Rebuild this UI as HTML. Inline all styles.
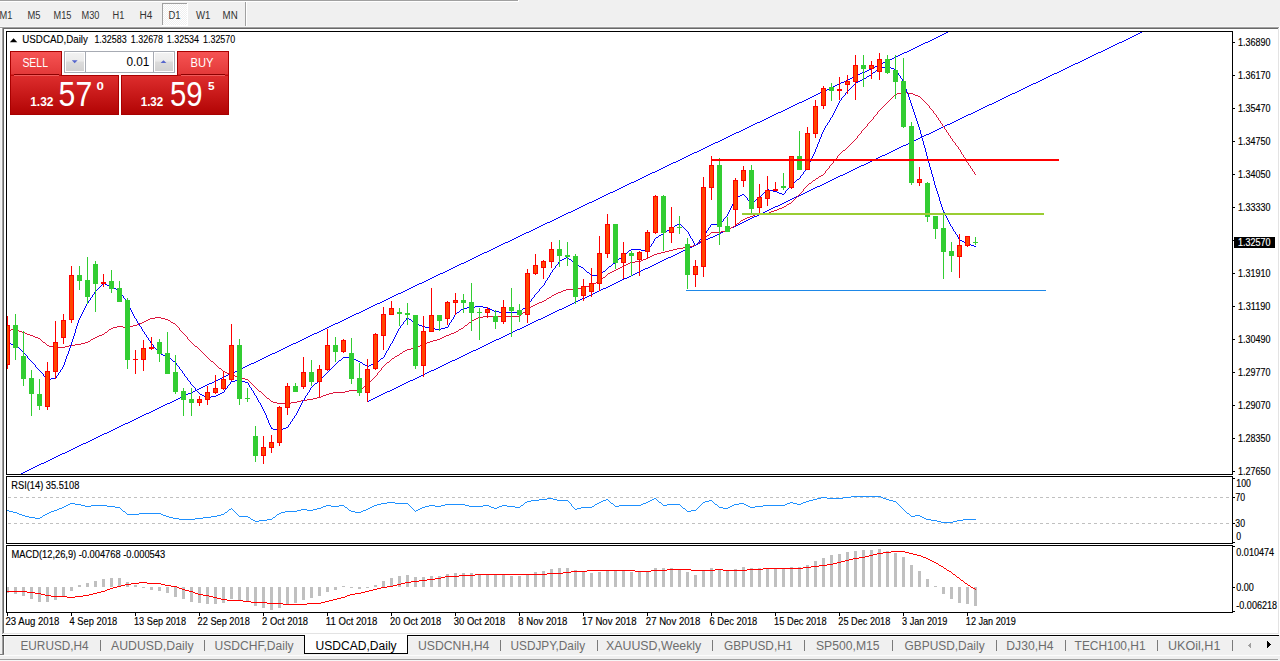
<!DOCTYPE html><html><head><meta charset="utf-8"><title>USDCAD,Daily</title><style>html,body{margin:0;padding:0;background:#f0f0f0;width:1280px;height:661px;overflow:hidden;}text{font-family:"Liberation Sans",sans-serif;}</style></head><body><svg width="1280" height="661" viewBox="0 0 1280 661" shape-rendering="crispEdges" font-family="Liberation Sans, sans-serif" style="display:block"><defs><pattern id="chk" width="2" height="2" patternUnits="userSpaceOnUse"><rect width="2" height="2" fill="#f0f0f0"/><rect width="1" height="1" fill="#ffffff"/><rect x="1" y="1" width="1" height="1" fill="#ffffff"/></pattern><linearGradient id="gsellT" x1="0" y1="0" x2="0" y2="1"><stop offset="0" stop-color="#f65353"/><stop offset="1" stop-color="#e23838"/></linearGradient><linearGradient id="gsellB" x1="0" y1="0" x2="0" y2="1"><stop offset="0" stop-color="#dd2d2d"/><stop offset="1" stop-color="#b20404"/></linearGradient><linearGradient id="gbtn" x1="0" y1="0" x2="0" y2="1"><stop offset="0" stop-color="#f2f2f2"/><stop offset="0.45" stop-color="#ebebeb"/><stop offset="0.5" stop-color="#dcdcdc"/><stop offset="1" stop-color="#d2d2d2"/></linearGradient><clipPath id="cm"><rect x="7" y="32" width="1225" height="442"/></clipPath><clipPath id="cr"><rect x="7" y="477" width="1225" height="66"/></clipPath><clipPath id="cd"><rect x="7" y="546" width="1225" height="66"/></clipPath></defs>
<rect x="0" y="0" width="1280" height="661" fill="#f0f0f0"/>
<rect x="0" y="0" width="518" height="1" fill="#a0a0a0"/>
<rect x="0" y="1" width="519" height="1" fill="#ffffff"/>
<rect x="518" y="0" width="1" height="2" fill="#ffffff"/>
<rect x="162" y="3" width="25" height="22" fill="url(#chk)"/>
<rect x="162" y="3" width="25" height="1" fill="#a0a0a0"/>
<rect x="162" y="3" width="1" height="22" fill="#a0a0a0"/>
<rect x="187" y="3" width="1" height="23" fill="#ffffff"/>
<rect x="162" y="25" width="26" height="1" fill="#ffffff"/>
<text x="-0.5" y="18.9" font-size="10.0" fill="#333" textLength="12.90" lengthAdjust="spacingAndGlyphs">M1</text>
<text x="27.5" y="18.9" font-size="10.0" fill="#333" textLength="13.00" lengthAdjust="spacingAndGlyphs">M5</text>
<text x="53.5" y="18.9" font-size="10.0" fill="#333" textLength="17.90" lengthAdjust="spacingAndGlyphs">M15</text>
<text x="81.5" y="18.9" font-size="10.0" fill="#333" textLength="17.90" lengthAdjust="spacingAndGlyphs">M30</text>
<text x="112.5" y="18.9" font-size="10.0" fill="#333" textLength="11.80" lengthAdjust="spacingAndGlyphs">H1</text>
<text x="139.5" y="18.9" font-size="10.0" fill="#333" textLength="12.90" lengthAdjust="spacingAndGlyphs">H4</text>
<text x="168.5" y="18.9" font-size="10.0" fill="#333" textLength="12.10" lengthAdjust="spacingAndGlyphs">D1</text>
<text x="196" y="18.9" font-size="10.0" fill="#333" textLength="14.40" lengthAdjust="spacingAndGlyphs">W1</text>
<text x="222.6" y="18.9" font-size="10.0" fill="#333" textLength="15.10" lengthAdjust="spacingAndGlyphs">MN</text>
<rect x="245" y="2" width="1" height="25" fill="#a0a0a0"/>
<rect x="246" y="2" width="1" height="25" fill="#ffffff"/>
<rect x="0" y="26" width="1280" height="1" fill="#f6f6f6"/>
<rect x="0" y="28" width="2" height="1" fill="#ffffff"/>
<rect x="1" y="29" width="1" height="604" fill="#f6f6f6"/>
<rect x="0" y="27" width="1279" height="1" fill="#a0a0a0"/>
<rect x="2" y="27" width="1" height="607" fill="#a0a0a0"/>
<rect x="3" y="28" width="1275" height="1" fill="#696969"/>
<rect x="3" y="28" width="1" height="605" fill="#696969"/>
<rect x="1278" y="28" width="1" height="606" fill="#e3e3e3"/>
<rect x="3" y="633" width="1276" height="1" fill="#e3e3e3"/>
<rect x="1279" y="27" width="1" height="608" fill="#ffffff"/>
<rect x="2" y="634" width="1278" height="1" fill="#ffffff"/>
<rect x="4" y="29" width="1274" height="604" fill="#ffffff"/>
<g clip-path="url(#cm)">
<path d="M946 32h2v1h-2zM944 33h2v1h-2zM942 34h2v1h-2zM940 35h2v1h-2zM938 36h2v1h-2zM936 37h2v1h-2zM934 38h2v1h-2zM932 39h2v1h-2zM930 40h2v1h-2zM928 41h2v1h-2zM925 42h3v1h-3zM923 43h2v1h-2zM921 44h2v1h-2zM919 45h2v1h-2zM917 46h2v1h-2zM915 47h2v1h-2zM913 48h2v1h-2zM911 49h2v1h-2zM909 50h2v1h-2zM907 51h2v1h-2zM904 52h3v1h-3zM902 53h2v1h-2zM900 54h2v1h-2zM898 55h2v1h-2zM896 56h2v1h-2zM894 57h2v1h-2zM892 58h2v1h-2zM890 59h2v1h-2zM888 60h2v1h-2zM886 61h2v1h-2zM883 62h3v1h-3zM881 63h2v1h-2zM879 64h2v1h-2zM877 65h2v1h-2zM875 66h2v1h-2zM873 67h2v1h-2zM871 68h2v1h-2zM869 69h2v1h-2zM867 70h2v1h-2zM865 71h2v1h-2zM862 72h3v1h-3zM860 73h2v1h-2zM858 74h2v1h-2zM856 75h2v1h-2zM854 76h2v1h-2zM852 77h2v1h-2zM850 78h2v1h-2zM848 79h2v1h-2zM846 80h2v1h-2zM844 81h2v1h-2zM841 82h3v1h-3zM839 83h2v1h-2zM837 84h2v1h-2zM835 85h2v1h-2zM833 86h2v1h-2zM831 87h2v1h-2zM829 88h2v1h-2zM827 89h2v1h-2zM825 90h2v1h-2zM823 91h2v1h-2zM820 92h3v1h-3zM818 93h2v1h-2zM816 94h2v1h-2zM814 95h2v1h-2zM812 96h2v1h-2zM810 97h2v1h-2zM808 98h2v1h-2zM806 99h2v1h-2zM804 100h2v1h-2zM802 101h2v1h-2zM799 102h3v1h-3zM797 103h2v1h-2zM795 104h2v1h-2zM793 105h2v1h-2zM791 106h2v1h-2zM789 107h2v1h-2zM787 108h2v1h-2zM785 109h2v1h-2zM783 110h2v1h-2zM781 111h2v1h-2zM778 112h3v1h-3zM776 113h2v1h-2zM774 114h2v1h-2zM772 115h2v1h-2zM770 116h2v1h-2zM768 117h2v1h-2zM766 118h2v1h-2zM764 119h2v1h-2zM762 120h2v1h-2zM760 121h2v1h-2zM757 122h3v1h-3zM755 123h2v1h-2zM753 124h2v1h-2zM751 125h2v1h-2zM749 126h2v1h-2zM747 127h2v1h-2zM745 128h2v1h-2zM743 129h2v1h-2zM741 130h2v1h-2zM739 131h2v1h-2zM736 132h3v1h-3zM734 133h2v1h-2zM732 134h2v1h-2zM730 135h2v1h-2zM728 136h2v1h-2zM726 137h2v1h-2zM724 138h2v1h-2zM722 139h2v1h-2zM720 140h2v1h-2zM718 141h2v1h-2zM715 142h3v1h-3zM713 143h2v1h-2zM711 144h2v1h-2zM709 145h2v1h-2zM707 146h2v1h-2zM705 147h2v1h-2zM703 148h2v1h-2zM701 149h2v1h-2zM699 150h2v1h-2zM697 151h2v1h-2zM694 152h3v1h-3zM692 153h2v1h-2zM690 154h2v1h-2zM688 155h2v1h-2zM686 156h2v1h-2zM684 157h2v1h-2zM682 158h2v1h-2zM680 159h2v1h-2zM678 160h2v1h-2zM676 161h2v1h-2zM673 162h3v1h-3zM671 163h2v1h-2zM669 164h2v1h-2zM667 165h2v1h-2zM665 166h2v1h-2zM663 167h2v1h-2zM661 168h2v1h-2zM659 169h2v1h-2zM657 170h2v1h-2zM655 171h2v1h-2zM652 172h3v1h-3zM650 173h2v1h-2zM648 174h2v1h-2zM646 175h2v1h-2zM644 176h2v1h-2zM642 177h2v1h-2zM640 178h2v1h-2zM638 179h2v1h-2zM636 180h2v1h-2zM634 181h2v1h-2zM631 182h3v1h-3zM629 183h2v1h-2zM627 184h2v1h-2zM625 185h2v1h-2zM623 186h2v1h-2zM621 187h2v1h-2zM619 188h2v1h-2zM617 189h2v1h-2zM615 190h2v1h-2zM613 191h2v1h-2zM610 192h3v1h-3zM608 193h2v1h-2zM606 194h2v1h-2zM604 195h2v1h-2zM602 196h2v1h-2zM600 197h2v1h-2zM598 198h2v1h-2zM596 199h2v1h-2zM594 200h2v1h-2zM592 201h2v1h-2zM589 202h3v1h-3zM587 203h2v1h-2zM585 204h2v1h-2zM583 205h2v1h-2zM581 206h2v1h-2zM579 207h2v1h-2zM577 208h2v1h-2zM575 209h2v1h-2zM573 210h2v1h-2zM571 211h2v1h-2zM568 212h3v1h-3zM566 213h2v1h-2zM564 214h2v1h-2zM562 215h2v1h-2zM560 216h2v1h-2zM558 217h2v1h-2zM556 218h2v1h-2zM554 219h2v1h-2zM552 220h2v1h-2zM550 221h2v1h-2zM547 222h3v1h-3zM545 223h2v1h-2zM543 224h2v1h-2zM541 225h2v1h-2zM539 226h2v1h-2zM537 227h2v1h-2zM535 228h2v1h-2zM533 229h2v1h-2zM531 230h2v1h-2zM529 231h2v1h-2zM526 232h3v1h-3zM524 233h2v1h-2zM522 234h2v1h-2zM520 235h2v1h-2zM518 236h2v1h-2zM516 237h2v1h-2zM514 238h2v1h-2zM512 239h2v1h-2zM510 240h2v1h-2zM508 241h2v1h-2zM505 242h3v1h-3zM503 243h2v1h-2zM501 244h2v1h-2zM499 245h2v1h-2zM497 246h2v1h-2zM495 247h2v1h-2zM493 248h2v1h-2zM491 249h2v1h-2zM489 250h2v1h-2zM487 251h2v1h-2zM484 252h3v1h-3zM482 253h2v1h-2zM480 254h2v1h-2zM478 255h2v1h-2zM476 256h2v1h-2zM474 257h2v1h-2zM472 258h2v1h-2zM470 259h2v1h-2zM468 260h2v1h-2zM466 261h2v1h-2zM464 262h2v1h-2zM461 263h3v1h-3zM459 264h2v1h-2zM457 265h2v1h-2zM455 266h2v1h-2zM453 267h2v1h-2zM451 268h2v1h-2zM449 269h2v1h-2zM447 270h2v1h-2zM445 271h2v1h-2zM443 272h2v1h-2zM440 273h3v1h-3zM438 274h2v1h-2zM436 275h2v1h-2zM434 276h2v1h-2zM432 277h2v1h-2zM430 278h2v1h-2zM428 279h2v1h-2zM426 280h2v1h-2zM424 281h2v1h-2zM422 282h2v1h-2zM419 283h3v1h-3zM417 284h2v1h-2zM415 285h2v1h-2zM413 286h2v1h-2zM411 287h2v1h-2zM409 288h2v1h-2zM407 289h2v1h-2zM405 290h2v1h-2zM403 291h2v1h-2zM401 292h2v1h-2zM398 293h3v1h-3zM396 294h2v1h-2zM394 295h2v1h-2zM392 296h2v1h-2zM390 297h2v1h-2zM388 298h2v1h-2zM386 299h2v1h-2zM384 300h2v1h-2zM382 301h2v1h-2zM380 302h2v1h-2zM377 303h3v1h-3zM375 304h2v1h-2zM373 305h2v1h-2zM371 306h2v1h-2zM369 307h2v1h-2zM367 308h2v1h-2zM365 309h2v1h-2zM363 310h2v1h-2zM361 311h2v1h-2zM359 312h2v1h-2zM356 313h3v1h-3zM354 314h2v1h-2zM352 315h2v1h-2zM350 316h2v1h-2zM348 317h2v1h-2zM346 318h2v1h-2zM344 319h2v1h-2zM342 320h2v1h-2zM340 321h2v1h-2zM338 322h2v1h-2zM335 323h3v1h-3zM333 324h2v1h-2zM331 325h2v1h-2zM329 326h2v1h-2zM327 327h2v1h-2zM325 328h2v1h-2zM323 329h2v1h-2zM321 330h2v1h-2zM319 331h2v1h-2zM317 332h2v1h-2zM314 333h3v1h-3zM312 334h2v1h-2zM310 335h2v1h-2zM308 336h2v1h-2zM306 337h2v1h-2zM304 338h2v1h-2zM302 339h2v1h-2zM300 340h2v1h-2zM298 341h2v1h-2zM296 342h2v1h-2zM293 343h3v1h-3zM291 344h2v1h-2zM289 345h2v1h-2zM287 346h2v1h-2zM285 347h2v1h-2zM283 348h2v1h-2zM281 349h2v1h-2zM279 350h2v1h-2zM277 351h2v1h-2zM275 352h2v1h-2zM272 353h3v1h-3zM270 354h2v1h-2zM268 355h2v1h-2zM266 356h2v1h-2zM264 357h2v1h-2zM262 358h2v1h-2zM260 359h2v1h-2zM258 360h2v1h-2zM256 361h2v1h-2zM254 362h2v1h-2zM251 363h3v1h-3zM249 364h2v1h-2zM247 365h2v1h-2zM245 366h2v1h-2zM243 367h2v1h-2zM241 368h2v1h-2zM239 369h2v1h-2zM237 370h2v1h-2zM235 371h2v1h-2zM233 372h2v1h-2zM230 373h3v1h-3zM228 374h2v1h-2zM226 375h2v1h-2zM224 376h2v1h-2zM222 377h2v1h-2zM220 378h2v1h-2zM218 379h2v1h-2zM216 380h2v1h-2zM214 381h2v1h-2zM212 382h2v1h-2zM209 383h3v1h-3zM207 384h2v1h-2zM205 385h2v1h-2zM203 386h2v1h-2zM201 387h2v1h-2zM199 388h2v1h-2zM197 389h2v1h-2zM195 390h2v1h-2zM193 391h2v1h-2zM191 392h2v1h-2zM188 393h3v1h-3zM186 394h2v1h-2zM184 395h2v1h-2zM182 396h2v1h-2zM180 397h2v1h-2zM178 398h2v1h-2zM176 399h2v1h-2zM174 400h2v1h-2zM172 401h2v1h-2zM170 402h2v1h-2zM167 403h3v1h-3zM165 404h2v1h-2zM163 405h2v1h-2zM161 406h2v1h-2zM159 407h2v1h-2zM157 408h2v1h-2zM155 409h2v1h-2zM153 410h2v1h-2zM151 411h2v1h-2zM149 412h2v1h-2zM146 413h3v1h-3zM144 414h2v1h-2zM142 415h2v1h-2zM140 416h2v1h-2zM138 417h2v1h-2zM136 418h2v1h-2zM134 419h2v1h-2zM132 420h2v1h-2zM130 421h2v1h-2zM128 422h2v1h-2zM125 423h3v1h-3zM123 424h2v1h-2zM121 425h2v1h-2zM119 426h2v1h-2zM117 427h2v1h-2zM115 428h2v1h-2zM113 429h2v1h-2zM111 430h2v1h-2zM109 431h2v1h-2zM107 432h2v1h-2zM104 433h3v1h-3zM102 434h2v1h-2zM100 435h2v1h-2zM98 436h2v1h-2zM96 437h2v1h-2zM94 438h2v1h-2zM92 439h2v1h-2zM90 440h2v1h-2zM88 441h2v1h-2zM86 442h2v1h-2zM83 443h3v1h-3zM81 444h2v1h-2zM79 445h2v1h-2zM77 446h2v1h-2zM75 447h2v1h-2zM73 448h2v1h-2zM71 449h2v1h-2zM69 450h2v1h-2zM67 451h2v1h-2zM65 452h2v1h-2zM62 453h3v1h-3zM60 454h2v1h-2zM58 455h2v1h-2zM56 456h2v1h-2zM54 457h2v1h-2zM52 458h2v1h-2zM50 459h2v1h-2zM48 460h2v1h-2zM46 461h2v1h-2zM44 462h2v1h-2zM41 463h3v1h-3zM39 464h2v1h-2zM37 465h2v1h-2zM35 466h2v1h-2zM33 467h2v1h-2zM31 468h2v1h-2zM29 469h2v1h-2zM27 470h2v1h-2zM25 471h2v1h-2zM23 472h2v1h-2zM21 473h2v1h-2z" fill="#0000ff"/>
<path d="M1140 32h2v1h-2zM1138 33h2v1h-2zM1136 34h2v1h-2zM1134 35h2v1h-2zM1132 36h2v1h-2zM1130 37h2v1h-2zM1128 38h2v1h-2zM1126 39h2v1h-2zM1124 40h2v1h-2zM1122 41h2v1h-2zM1119 42h3v1h-3zM1117 43h2v1h-2zM1115 44h2v1h-2zM1113 45h2v1h-2zM1111 46h2v1h-2zM1109 47h2v1h-2zM1107 48h2v1h-2zM1105 49h2v1h-2zM1103 50h2v1h-2zM1101 51h2v1h-2zM1098 52h3v1h-3zM1096 53h2v1h-2zM1094 54h2v1h-2zM1092 55h2v1h-2zM1090 56h2v1h-2zM1088 57h2v1h-2zM1086 58h2v1h-2zM1084 59h2v1h-2zM1082 60h2v1h-2zM1080 61h2v1h-2zM1078 62h2v1h-2zM1075 63h3v1h-3zM1073 64h2v1h-2zM1071 65h2v1h-2zM1069 66h2v1h-2zM1067 67h2v1h-2zM1065 68h2v1h-2zM1063 69h2v1h-2zM1061 70h2v1h-2zM1059 71h2v1h-2zM1057 72h2v1h-2zM1054 73h3v1h-3zM1052 74h2v1h-2zM1050 75h2v1h-2zM1048 76h2v1h-2zM1046 77h2v1h-2zM1044 78h2v1h-2zM1042 79h2v1h-2zM1040 80h2v1h-2zM1038 81h2v1h-2zM1036 82h2v1h-2zM1033 83h3v1h-3zM1031 84h2v1h-2zM1029 85h2v1h-2zM1027 86h2v1h-2zM1025 87h2v1h-2zM1023 88h2v1h-2zM1021 89h2v1h-2zM1019 90h2v1h-2zM1017 91h2v1h-2zM1015 92h2v1h-2zM1012 93h3v1h-3zM1010 94h2v1h-2zM1008 95h2v1h-2zM1006 96h2v1h-2zM1004 97h2v1h-2zM1002 98h2v1h-2zM1000 99h2v1h-2zM998 100h2v1h-2zM996 101h2v1h-2zM994 102h2v1h-2zM992 103h2v1h-2zM989 104h3v1h-3zM987 105h2v1h-2zM985 106h2v1h-2zM983 107h2v1h-2zM981 108h2v1h-2zM979 109h2v1h-2zM977 110h2v1h-2zM975 111h2v1h-2zM973 112h2v1h-2zM971 113h2v1h-2zM968 114h3v1h-3zM966 115h2v1h-2zM964 116h2v1h-2zM962 117h2v1h-2zM960 118h2v1h-2zM958 119h2v1h-2zM956 120h2v1h-2zM954 121h2v1h-2zM952 122h2v1h-2zM950 123h2v1h-2zM947 124h3v1h-3zM945 125h2v1h-2zM943 126h2v1h-2zM941 127h2v1h-2zM939 128h2v1h-2zM937 129h2v1h-2zM935 130h2v1h-2zM933 131h2v1h-2zM931 132h2v1h-2zM929 133h2v1h-2zM926 134h3v1h-3zM924 135h2v1h-2zM922 136h2v1h-2zM920 137h2v1h-2zM918 138h2v1h-2zM916 139h2v1h-2zM914 140h2v1h-2zM912 141h2v1h-2zM910 142h2v1h-2zM908 143h2v1h-2zM906 144h2v1h-2zM903 145h3v1h-3zM901 146h2v1h-2zM899 147h2v1h-2zM897 148h2v1h-2zM895 149h2v1h-2zM893 150h2v1h-2zM891 151h2v1h-2zM889 152h2v1h-2zM887 153h2v1h-2zM885 154h2v1h-2zM882 155h3v1h-3zM880 156h2v1h-2zM878 157h2v1h-2zM876 158h2v1h-2zM874 159h2v1h-2zM872 160h2v1h-2zM870 161h2v1h-2zM868 162h2v1h-2zM866 163h2v1h-2zM864 164h2v1h-2zM861 165h3v1h-3zM859 166h2v1h-2zM857 167h2v1h-2zM855 168h2v1h-2zM853 169h2v1h-2zM851 170h2v1h-2zM849 171h2v1h-2zM847 172h2v1h-2zM845 173h2v1h-2zM843 174h2v1h-2zM840 175h3v1h-3zM838 176h2v1h-2zM836 177h2v1h-2zM834 178h2v1h-2zM832 179h2v1h-2zM830 180h2v1h-2zM828 181h2v1h-2zM826 182h2v1h-2zM824 183h2v1h-2zM822 184h2v1h-2zM820 185h2v1h-2zM817 186h3v1h-3zM815 187h2v1h-2zM813 188h2v1h-2zM811 189h2v1h-2zM809 190h2v1h-2zM807 191h2v1h-2zM805 192h2v1h-2zM803 193h2v1h-2zM801 194h2v1h-2zM799 195h2v1h-2zM796 196h3v1h-3zM794 197h2v1h-2zM792 198h2v1h-2zM790 199h2v1h-2zM788 200h2v1h-2zM786 201h2v1h-2zM784 202h2v1h-2zM782 203h2v1h-2zM780 204h2v1h-2zM778 205h2v1h-2zM775 206h3v1h-3zM773 207h2v1h-2zM771 208h2v1h-2zM769 209h2v1h-2zM767 210h2v1h-2zM765 211h2v1h-2zM763 212h2v1h-2zM761 213h2v1h-2zM759 214h2v1h-2zM757 215h2v1h-2zM754 216h3v1h-3zM752 217h2v1h-2zM750 218h2v1h-2zM748 219h2v1h-2zM746 220h2v1h-2zM744 221h2v1h-2zM742 222h2v1h-2zM740 223h2v1h-2zM738 224h2v1h-2zM736 225h2v1h-2zM734 226h2v1h-2zM731 227h3v1h-3zM729 228h2v1h-2zM727 229h2v1h-2zM725 230h2v1h-2zM723 231h2v1h-2zM721 232h2v1h-2zM719 233h2v1h-2zM717 234h2v1h-2zM715 235h2v1h-2zM713 236h2v1h-2zM710 237h3v1h-3zM708 238h2v1h-2zM706 239h2v1h-2zM704 240h2v1h-2zM702 241h2v1h-2zM700 242h2v1h-2zM698 243h2v1h-2zM696 244h2v1h-2zM694 245h2v1h-2zM692 246h2v1h-2zM689 247h3v1h-3zM687 248h2v1h-2zM685 249h2v1h-2zM683 250h2v1h-2zM681 251h2v1h-2zM679 252h2v1h-2zM677 253h2v1h-2zM675 254h2v1h-2zM673 255h2v1h-2zM671 256h2v1h-2zM668 257h3v1h-3zM666 258h2v1h-2zM664 259h2v1h-2zM662 260h2v1h-2zM660 261h2v1h-2zM658 262h2v1h-2zM656 263h2v1h-2zM654 264h2v1h-2zM652 265h2v1h-2zM650 266h2v1h-2zM648 267h2v1h-2zM645 268h3v1h-3zM643 269h2v1h-2zM641 270h2v1h-2zM639 271h2v1h-2zM637 272h2v1h-2zM635 273h2v1h-2zM633 274h2v1h-2zM631 275h2v1h-2zM629 276h2v1h-2zM627 277h2v1h-2zM624 278h3v1h-3zM622 279h2v1h-2zM620 280h2v1h-2zM618 281h2v1h-2zM616 282h2v1h-2zM614 283h2v1h-2zM612 284h2v1h-2zM610 285h2v1h-2zM608 286h2v1h-2zM606 287h2v1h-2zM603 288h3v1h-3zM601 289h2v1h-2zM599 290h2v1h-2zM597 291h2v1h-2zM595 292h2v1h-2zM593 293h2v1h-2zM591 294h2v1h-2zM589 295h2v1h-2zM587 296h2v1h-2zM585 297h2v1h-2zM582 298h3v1h-3zM580 299h2v1h-2zM578 300h2v1h-2zM576 301h2v1h-2zM574 302h2v1h-2zM572 303h2v1h-2zM570 304h2v1h-2zM568 305h2v1h-2zM566 306h2v1h-2zM564 307h2v1h-2zM562 308h2v1h-2zM559 309h3v1h-3zM557 310h2v1h-2zM555 311h2v1h-2zM553 312h2v1h-2zM551 313h2v1h-2zM549 314h2v1h-2zM547 315h2v1h-2zM545 316h2v1h-2zM543 317h2v1h-2zM541 318h2v1h-2zM538 319h3v1h-3zM536 320h2v1h-2zM534 321h2v1h-2zM532 322h2v1h-2zM530 323h2v1h-2zM528 324h2v1h-2zM526 325h2v1h-2zM524 326h2v1h-2zM522 327h2v1h-2zM520 328h2v1h-2zM517 329h3v1h-3zM515 330h2v1h-2zM513 331h2v1h-2zM511 332h2v1h-2zM509 333h2v1h-2zM507 334h2v1h-2zM505 335h2v1h-2zM503 336h2v1h-2zM501 337h2v1h-2zM499 338h2v1h-2zM496 339h3v1h-3zM494 340h2v1h-2zM492 341h2v1h-2zM490 342h2v1h-2zM488 343h2v1h-2zM486 344h2v1h-2zM484 345h2v1h-2zM482 346h2v1h-2zM480 347h2v1h-2zM478 348h2v1h-2zM476 349h2v1h-2zM473 350h3v1h-3zM471 351h2v1h-2zM469 352h2v1h-2zM467 353h2v1h-2zM465 354h2v1h-2zM463 355h2v1h-2zM461 356h2v1h-2zM459 357h2v1h-2zM457 358h2v1h-2zM455 359h2v1h-2zM452 360h3v1h-3zM450 361h2v1h-2zM448 362h2v1h-2zM446 363h2v1h-2zM444 364h2v1h-2zM442 365h2v1h-2zM440 366h2v1h-2zM438 367h2v1h-2zM436 368h2v1h-2zM434 369h2v1h-2zM431 370h3v1h-3zM429 371h2v1h-2zM427 372h2v1h-2zM425 373h2v1h-2zM423 374h2v1h-2zM421 375h2v1h-2zM419 376h2v1h-2zM417 377h2v1h-2zM415 378h2v1h-2zM413 379h2v1h-2zM410 380h3v1h-3zM408 381h2v1h-2zM406 382h2v1h-2zM404 383h2v1h-2zM402 384h2v1h-2zM400 385h2v1h-2zM398 386h2v1h-2zM396 387h2v1h-2zM394 388h2v1h-2zM392 389h2v1h-2zM390 390h2v1h-2zM387 391h3v1h-3zM385 392h2v1h-2zM383 393h2v1h-2zM381 394h2v1h-2zM379 395h2v1h-2zM377 396h2v1h-2zM375 397h2v1h-2zM373 398h2v1h-2zM371 399h2v1h-2zM369 400h2v1h-2zM367 401h2v1h-2z" fill="#0000ff"/>
<path d="M901 92h6v1h-6zM897 93h4v1h-4zM907 93h6v1h-6zM895 94h2v1h-2zM913 94h2v1h-2zM894 95h1v1h-1zM915 95h3v1h-3zM893 96h1v1h-1zM918 96h2v1h-2zM892 97h1v1h-1zM920 97h1v1h-1zM891 98h1v1h-1zM921 98h1v1h-1zM890 99h1v1h-1zM922 99h1v1h-1zM889 100h1v1h-1zM923 100h1v1h-1zM888 101h1v1h-1zM924 101h1v1h-1zM887 102h1v1h-1zM925 102h1v1h-1zM886 103h1v1h-1zM926 103h1v1h-1zM885 104h1v1h-1zM927 104h1v1h-1zM884 105h1v1h-1zM928 105h1v1h-1zM883 106h1v1h-1zM929 106h1v1h-1zM882 107h1v1h-1zM929 107h1v1h-1zM881 108h1v1h-1zM930 108h1v1h-1zM880 109h1v1h-1zM931 109h1v1h-1zM879 110h1v1h-1zM932 110h1v1h-1zM878 111h1v1h-1zM933 111h1v1h-1zM877 112h1v1h-1zM933 112h1v1h-1zM877 113h1v1h-1zM934 113h1v1h-1zM876 114h1v1h-1zM935 114h1v1h-1zM875 115h1v1h-1zM936 115h1v1h-1zM874 116h1v1h-1zM936 116h1v1h-1zM873 117h1v1h-1zM937 117h1v1h-1zM873 118h1v1h-1zM938 118h1v1h-1zM872 119h1v1h-1zM938 119h1v1h-1zM871 120h1v1h-1zM939 120h1v1h-1zM870 121h1v1h-1zM940 121h1v1h-1zM869 122h1v1h-1zM940 122h1v1h-1zM868 123h1v1h-1zM941 123h1v1h-1zM867 124h1v1h-1zM942 124h1v1h-1zM867 125h1v1h-1zM942 125h1v1h-1zM866 126h1v1h-1zM943 126h1v1h-1zM865 127h1v1h-1zM944 127h1v1h-1zM864 128h1v1h-1zM944 128h1v1h-1zM863 129h1v1h-1zM945 129h1v1h-1zM862 130h1v1h-1zM946 130h1v1h-1zM861 131h1v1h-1zM946 131h1v1h-1zM861 132h1v1h-1zM947 132h1v1h-1zM860 133h1v1h-1zM948 133h1v1h-1zM859 134h1v1h-1zM948 134h1v1h-1zM858 135h1v1h-1zM949 135h1v1h-1zM857 136h1v1h-1zM950 136h1v1h-1zM857 137h1v1h-1zM950 137h1v1h-1zM856 138h1v1h-1zM951 138h1v1h-1zM855 139h1v1h-1zM952 139h1v1h-1zM854 140h1v1h-1zM952 140h1v1h-1zM853 141h1v1h-1zM953 141h1v1h-1zM852 142h1v1h-1zM954 142h1v1h-1zM851 143h1v1h-1zM955 143h1v1h-1zM850 144h1v1h-1zM955 144h1v1h-1zM849 145h1v1h-1zM956 145h1v1h-1zM848 146h1v1h-1zM957 146h1v1h-1zM847 147h1v1h-1zM958 147h1v1h-1zM846 148h1v1h-1zM958 148h1v1h-1zM845 149h1v1h-1zM959 149h1v1h-1zM843 150h2v1h-2zM960 150h1v1h-1zM842 151h1v1h-1zM960 151h1v1h-1zM841 152h1v1h-1zM961 152h1v1h-1zM840 153h1v1h-1zM961 153h1v1h-1zM839 154h1v1h-1zM962 154h1v1h-1zM838 155h1v1h-1zM963 155h1v1h-1zM837 156h1v1h-1zM963 156h1v1h-1zM837 157h1v1h-1zM964 157h1v1h-1zM836 158h1v1h-1zM965 158h1v1h-1zM835 159h1v1h-1zM965 159h1v1h-1zM834 160h1v1h-1zM966 160h1v1h-1zM833 161h1v1h-1zM966 161h1v1h-1zM833 162h1v1h-1zM967 162h1v1h-1zM832 163h1v1h-1zM968 163h1v1h-1zM831 164h1v1h-1zM968 164h1v1h-1zM830 165h1v1h-1zM969 165h1v1h-1zM829 166h1v1h-1zM970 166h1v1h-1zM829 167h1v1h-1zM970 167h1v1h-1zM828 168h1v1h-1zM971 168h1v1h-1zM827 169h1v1h-1zM972 169h1v1h-1zM826 170h1v1h-1zM972 170h1v1h-1zM825 171h1v1h-1zM973 171h1v1h-1zM825 172h1v1h-1zM974 172h1v1h-1zM824 173h1v1h-1zM974 173h1v1h-1zM823 174h1v1h-1zM975 174h1v1h-1zM821 175h2v1h-2zM819 176h2v1h-2zM818 177h1v1h-1zM816 178h2v1h-2zM815 179h1v1h-1zM813 180h2v1h-2zM812 181h1v1h-1zM811 182h1v1h-1zM809 183h2v1h-2zM808 184h1v1h-1zM807 185h1v1h-1zM806 186h1v1h-1zM805 187h1v1h-1zM804 188h1v1h-1zM803 189h1v1h-1zM803 190h1v1h-1zM802 191h1v1h-1zM801 192h1v1h-1zM800 193h1v1h-1zM799 194h1v1h-1zM798 195h1v1h-1zM797 196h1v1h-1zM796 197h1v1h-1zM795 198h1v1h-1zM794 199h1v1h-1zM793 200h1v1h-1zM792 201h1v1h-1zM791 202h1v1h-1zM789 203h2v1h-2zM787 204h2v1h-2zM786 205h1v1h-1zM784 206h2v1h-2zM782 207h2v1h-2zM779 208h3v1h-3zM777 209h2v1h-2zM774 210h3v1h-3zM771 211h3v1h-3zM769 212h2v1h-2zM758 213h11v1h-11zM755 214h3v1h-3zM753 215h2v1h-2zM750 216h3v1h-3zM747 217h3v1h-3zM745 218h2v1h-2zM743 219h2v1h-2zM741 220h2v1h-2zM740 221h1v1h-1zM739 222h1v1h-1zM737 223h2v1h-2zM736 224h1v1h-1zM735 225h1v1h-1zM733 226h2v1h-2zM731 227h2v1h-2zM730 228h1v1h-1zM728 229h2v1h-2zM725 230h3v1h-3zM721 231h4v1h-4zM711 232h10v1h-10zM710 233h1v1h-1zM709 234h1v1h-1zM707 235h2v1h-2zM706 236h1v1h-1zM705 237h1v1h-1zM704 238h1v1h-1zM703 239h1v1h-1zM701 240h2v1h-2zM700 241h1v1h-1zM699 242h1v1h-1zM697 243h2v1h-2zM696 244h1v1h-1zM693 245h3v1h-3zM689 246h4v1h-4zM683 247h6v1h-6zM677 248h6v1h-6zM673 249h4v1h-4zM669 250h4v1h-4zM665 251h4v1h-4zM661 252h4v1h-4zM657 253h4v1h-4zM654 254h3v1h-3zM652 255h2v1h-2zM650 256h2v1h-2zM648 257h2v1h-2zM646 258h2v1h-2zM643 259h3v1h-3zM641 260h2v1h-2zM635 261h6v1h-6zM630 262h5v1h-5zM628 263h2v1h-2zM626 264h2v1h-2zM624 265h2v1h-2zM622 266h2v1h-2zM620 267h2v1h-2zM618 268h2v1h-2zM616 269h2v1h-2zM614 270h2v1h-2zM612 271h2v1h-2zM610 272h2v1h-2zM608 273h2v1h-2zM607 274h1v1h-1zM606 275h1v1h-1zM605 276h1v1h-1zM603 277h2v1h-2zM602 278h1v1h-1zM601 279h1v1h-1zM600 280h1v1h-1zM598 281h2v1h-2zM596 282h2v1h-2zM594 283h2v1h-2zM592 284h2v1h-2zM589 285h3v1h-3zM585 286h4v1h-4zM581 287h4v1h-4zM577 288h4v1h-4zM566 289h11v1h-11zM563 290h3v1h-3zM561 291h2v1h-2zM558 292h3v1h-3zM556 293h2v1h-2zM554 294h2v1h-2zM552 295h2v1h-2zM551 296h1v1h-1zM549 297h2v1h-2zM547 298h2v1h-2zM546 299h1v1h-1zM544 300h2v1h-2zM542 301h2v1h-2zM539 302h3v1h-3zM537 303h2v1h-2zM535 304h2v1h-2zM533 305h2v1h-2zM531 306h2v1h-2zM530 307h1v1h-1zM528 308h2v1h-2zM527 309h1v1h-1zM526 310h1v1h-1zM525 311h1v1h-1zM523 312h2v1h-2zM522 313h1v1h-1zM521 314h1v1h-1zM520 315h1v1h-1zM483 316h37v1h-37zM155 317h6v1h-6zM478 317h5v1h-5zM150 318h5v1h-5zM161 318h4v1h-4zM476 318h2v1h-2zM148 319h2v1h-2zM165 319h3v1h-3zM474 319h2v1h-2zM146 320h2v1h-2zM168 320h2v1h-2zM472 320h2v1h-2zM144 321h2v1h-2zM170 321h1v1h-1zM471 321h1v1h-1zM142 322h2v1h-2zM171 322h2v1h-2zM469 322h2v1h-2zM139 323h3v1h-3zM173 323h2v1h-2zM468 323h1v1h-1zM137 324h2v1h-2zM175 324h1v1h-1zM467 324h1v1h-1zM133 325h4v1h-4zM176 325h1v1h-1zM465 325h2v1h-2zM117 326h6v1h-6zM129 326h4v1h-4zM177 326h1v1h-1zM464 326h1v1h-1zM113 327h4v1h-4zM123 327h6v1h-6zM178 327h1v1h-1zM463 327h1v1h-1zM111 328h2v1h-2zM179 328h1v1h-1zM461 328h2v1h-2zM11 329h6v1h-6zM109 329h2v1h-2zM179 329h1v1h-1zM459 329h2v1h-2zM7 330h4v1h-4zM17 330h2v1h-2zM108 330h1v1h-1zM180 330h1v1h-1zM458 330h1v1h-1zM19 331h3v1h-3zM107 331h1v1h-1zM181 331h1v1h-1zM456 331h2v1h-2zM22 332h3v1h-3zM105 332h2v1h-2zM182 332h1v1h-1zM454 332h2v1h-2zM25 333h2v1h-2zM104 333h1v1h-1zM183 333h1v1h-1zM451 333h3v1h-3zM27 334h3v1h-3zM102 334h2v1h-2zM184 334h1v1h-1zM449 334h2v1h-2zM30 335h3v1h-3zM99 335h3v1h-3zM185 335h1v1h-1zM446 335h3v1h-3zM33 336h2v1h-2zM97 336h2v1h-2zM186 336h1v1h-1zM444 336h2v1h-2zM35 337h3v1h-3zM95 337h2v1h-2zM187 337h1v1h-1zM442 337h2v1h-2zM38 338h2v1h-2zM93 338h2v1h-2zM187 338h1v1h-1zM440 338h2v1h-2zM40 339h1v1h-1zM91 339h2v1h-2zM188 339h1v1h-1zM437 339h3v1h-3zM41 340h1v1h-1zM90 340h1v1h-1zM189 340h1v1h-1zM433 340h4v1h-4zM42 341h1v1h-1zM88 341h2v1h-2zM190 341h1v1h-1zM430 341h3v1h-3zM43 342h2v1h-2zM85 342h3v1h-3zM191 342h1v1h-1zM427 342h3v1h-3zM45 343h1v1h-1zM81 343h4v1h-4zM192 343h1v1h-1zM425 343h2v1h-2zM46 344h1v1h-1zM75 344h6v1h-6zM193 344h1v1h-1zM422 344h3v1h-3zM47 345h2v1h-2zM69 345h6v1h-6zM194 345h1v1h-1zM420 345h2v1h-2zM49 346h4v1h-4zM65 346h4v1h-4zM195 346h2v1h-2zM418 346h2v1h-2zM53 347h12v1h-12zM197 347h1v1h-1zM416 347h2v1h-2zM198 348h1v1h-1zM411 348h5v1h-5zM199 349h1v1h-1zM407 349h4v1h-4zM200 350h1v1h-1zM405 350h2v1h-2zM201 351h1v1h-1zM403 351h2v1h-2zM202 352h1v1h-1zM402 352h1v1h-1zM203 353h1v1h-1zM400 353h2v1h-2zM204 354h1v1h-1zM399 354h1v1h-1zM205 355h1v1h-1zM397 355h2v1h-2zM206 356h1v1h-1zM395 356h2v1h-2zM207 357h1v1h-1zM394 357h1v1h-1zM208 358h1v1h-1zM392 358h2v1h-2zM209 359h1v1h-1zM391 359h1v1h-1zM210 360h1v1h-1zM390 360h1v1h-1zM211 361h2v1h-2zM389 361h1v1h-1zM213 362h1v1h-1zM387 362h2v1h-2zM214 363h1v1h-1zM386 363h1v1h-1zM215 364h1v1h-1zM385 364h1v1h-1zM216 365h1v1h-1zM384 365h1v1h-1zM217 366h1v1h-1zM383 366h1v1h-1zM218 367h1v1h-1zM382 367h1v1h-1zM219 368h2v1h-2zM381 368h1v1h-1zM221 369h1v1h-1zM381 369h1v1h-1zM222 370h1v1h-1zM380 370h1v1h-1zM223 371h2v1h-2zM379 371h1v1h-1zM225 372h2v1h-2zM378 372h1v1h-1zM227 373h3v1h-3zM377 373h1v1h-1zM230 374h3v1h-3zM377 374h1v1h-1zM233 375h2v1h-2zM376 375h1v1h-1zM235 376h3v1h-3zM375 376h1v1h-1zM238 377h3v1h-3zM374 377h1v1h-1zM241 378h4v1h-4zM373 378h1v1h-1zM245 379h3v1h-3zM372 379h1v1h-1zM248 380h1v1h-1zM371 380h1v1h-1zM249 381h1v1h-1zM370 381h1v1h-1zM250 382h1v1h-1zM369 382h1v1h-1zM251 383h1v1h-1zM368 383h1v1h-1zM252 384h1v1h-1zM367 384h1v1h-1zM253 385h1v1h-1zM365 385h2v1h-2zM254 386h1v1h-1zM364 386h1v1h-1zM255 387h1v1h-1zM363 387h1v1h-1zM256 388h1v1h-1zM361 388h2v1h-2zM257 389h1v1h-1zM360 389h1v1h-1zM258 390h1v1h-1zM349 390h11v1h-11zM259 391h2v1h-2zM345 391h4v1h-4zM261 392h1v1h-1zM333 392h12v1h-12zM262 393h1v1h-1zM329 393h4v1h-4zM263 394h1v1h-1zM326 394h3v1h-3zM264 395h1v1h-1zM323 395h3v1h-3zM265 396h1v1h-1zM321 396h2v1h-2zM266 397h1v1h-1zM317 397h4v1h-4zM267 398h2v1h-2zM313 398h4v1h-4zM269 399h1v1h-1zM307 399h6v1h-6zM270 400h1v1h-1zM301 400h6v1h-6zM271 401h2v1h-2zM297 401h4v1h-4zM273 402h4v1h-4zM291 402h6v1h-6zM277 403h14v1h-14z" fill="#dc143c"/>
<path d="M885 66h4v1h-4zM881 67h4v1h-4zM889 67h2v1h-2zM879 68h2v1h-2zM891 68h3v1h-3zM877 69h2v1h-2zM894 69h2v1h-2zM876 70h1v1h-1zM896 70h1v1h-1zM875 71h1v1h-1zM896 71h1v1h-1zM873 72h2v1h-2zM897 72h1v1h-1zM872 73h1v1h-1zM898 73h1v1h-1zM871 74h1v1h-1zM898 74h1v1h-1zM869 75h2v1h-2zM899 75h1v1h-1zM867 76h2v1h-2zM900 76h1v1h-1zM866 77h1v1h-1zM900 77h1v1h-1zM864 78h2v1h-2zM901 78h1v1h-1zM862 79h2v1h-2zM902 79h1v1h-1zM860 80h2v1h-2zM902 80h1v1h-1zM858 81h2v1h-2zM903 81h1v1h-1zM856 82h2v1h-2zM903 82h1v1h-1zM855 83h1v1h-1zM904 83h1v1h-1zM854 84h1v1h-1zM904 84h1v1h-1zM853 85h1v1h-1zM904 85h1v1h-1zM852 86h1v1h-1zM905 86h1v1h-1zM851 87h1v1h-1zM905 87h1v1h-1zM850 88h1v1h-1zM905 88h1v1h-1zM849 89h1v1h-1zM906 89h1v1h-1zM848 90h1v1h-1zM906 90h1v1h-1zM847 91h1v1h-1zM906 91h1v1h-1zM846 92h1v1h-1zM907 92h1v1h-1zM845 93h1v1h-1zM907 93h1v1h-1zM845 94h1v1h-1zM908 94h1v1h-1zM844 95h1v1h-1zM908 95h1v1h-1zM843 96h1v1h-1zM908 96h1v1h-1zM842 97h1v1h-1zM909 97h1v1h-1zM841 98h1v1h-1zM909 98h1v1h-1zM841 99h1v1h-1zM909 99h1v1h-1zM840 100h1v1h-1zM910 100h1v1h-1zM839 101h1v1h-1zM910 101h1v1h-1zM839 102h1v1h-1zM910 102h1v1h-1zM838 103h1v1h-1zM911 103h1v1h-1zM838 104h1v1h-1zM911 104h1v1h-1zM837 105h1v1h-1zM911 105h1v1h-1zM837 106h1v1h-1zM912 106h1v1h-1zM836 107h1v1h-1zM912 107h1v1h-1zM836 108h1v1h-1zM912 108h1v1h-1zM835 109h1v1h-1zM913 109h1v1h-1zM835 110h1v1h-1zM913 110h1v1h-1zM834 111h1v1h-1zM913 111h1v1h-1zM834 112h1v1h-1zM914 112h1v1h-1zM833 113h1v1h-1zM914 113h1v1h-1zM833 114h1v1h-1zM914 114h1v1h-1zM832 115h1v1h-1zM915 115h1v1h-1zM832 116h1v1h-1zM915 116h1v1h-1zM831 117h1v1h-1zM915 117h1v1h-1zM830 118h1v1h-1zM916 118h1v1h-1zM830 119h1v1h-1zM916 119h1v1h-1zM829 120h1v1h-1zM916 120h1v1h-1zM829 121h1v1h-1zM917 121h1v1h-1zM828 122h1v1h-1zM917 122h1v1h-1zM827 123h1v1h-1zM917 123h1v1h-1zM827 124h1v1h-1zM918 124h1v1h-1zM826 125h1v1h-1zM918 125h1v1h-1zM825 126h1v1h-1zM918 126h1v1h-1zM825 127h1v1h-1zM919 127h1v1h-1zM824 128h1v1h-1zM919 128h1v1h-1zM824 129h1v1h-1zM919 129h1v1h-1zM823 130h1v1h-1zM920 130h1v1h-1zM823 131h1v1h-1zM920 131h1v1h-1zM822 132h1v1h-1zM920 132h1v1h-1zM822 133h1v1h-1zM920 133h1v1h-1zM821 134h1v1h-1zM921 134h1v1h-1zM821 135h1v1h-1zM921 135h1v1h-1zM821 136h1v1h-1zM921 136h1v1h-1zM820 137h1v1h-1zM921 137h1v1h-1zM820 138h1v1h-1zM922 138h1v1h-1zM819 139h1v1h-1zM922 139h1v1h-1zM819 140h1v1h-1zM922 140h1v1h-1zM819 141h1v1h-1zM923 141h1v1h-1zM818 142h1v1h-1zM923 142h1v1h-1zM818 143h1v1h-1zM923 143h1v1h-1zM817 144h1v1h-1zM923 144h1v1h-1zM817 145h1v1h-1zM924 145h1v1h-1zM817 146h1v1h-1zM924 146h1v1h-1zM816 147h1v1h-1zM924 147h1v1h-1zM816 148h1v1h-1zM925 148h1v1h-1zM815 149h1v1h-1zM925 149h1v1h-1zM815 150h1v1h-1zM925 150h1v1h-1zM815 151h1v1h-1zM925 151h1v1h-1zM814 152h1v1h-1zM926 152h1v1h-1zM814 153h1v1h-1zM926 153h1v1h-1zM813 154h1v1h-1zM926 154h1v1h-1zM813 155h1v1h-1zM926 155h1v1h-1zM812 156h1v1h-1zM927 156h1v1h-1zM812 157h1v1h-1zM927 157h1v1h-1zM811 158h1v1h-1zM927 158h1v1h-1zM811 159h1v1h-1zM928 159h1v1h-1zM810 160h1v1h-1zM928 160h1v1h-1zM810 161h1v1h-1zM928 161h1v1h-1zM809 162h1v1h-1zM928 162h1v1h-1zM809 163h1v1h-1zM929 163h1v1h-1zM808 164h1v1h-1zM929 164h1v1h-1zM808 165h1v1h-1zM929 165h1v1h-1zM807 166h1v1h-1zM929 166h1v1h-1zM807 167h1v1h-1zM930 167h1v1h-1zM806 168h1v1h-1zM930 168h1v1h-1zM806 169h1v1h-1zM930 169h1v1h-1zM805 170h1v1h-1zM931 170h1v1h-1zM804 171h1v1h-1zM931 171h1v1h-1zM803 172h1v1h-1zM931 172h1v1h-1zM803 173h1v1h-1zM931 173h1v1h-1zM802 174h1v1h-1zM932 174h1v1h-1zM801 175h1v1h-1zM932 175h1v1h-1zM800 176h1v1h-1zM932 176h1v1h-1zM800 177h1v1h-1zM933 177h1v1h-1zM799 178h1v1h-1zM933 178h1v1h-1zM797 179h2v1h-2zM933 179h1v1h-1zM796 180h1v1h-1zM933 180h1v1h-1zM795 181h1v1h-1zM934 181h1v1h-1zM793 182h2v1h-2zM934 182h1v1h-1zM792 183h1v1h-1zM934 183h1v1h-1zM791 184h1v1h-1zM934 184h1v1h-1zM790 185h1v1h-1zM935 185h1v1h-1zM789 186h1v1h-1zM935 186h1v1h-1zM789 187h1v1h-1zM935 187h1v1h-1zM788 188h1v1h-1zM936 188h1v1h-1zM767 189h2v1h-2zM787 189h1v1h-1zM936 189h1v1h-1zM766 190h1v1h-1zM769 190h4v1h-4zM786 190h1v1h-1zM936 190h1v1h-1zM765 191h1v1h-1zM773 191h4v1h-4zM785 191h1v1h-1zM937 191h1v1h-1zM764 192h1v1h-1zM777 192h2v1h-2zM785 192h1v1h-1zM937 192h1v1h-1zM763 193h1v1h-1zM779 193h3v1h-3zM784 193h1v1h-1zM937 193h1v1h-1zM742 194h2v1h-2zM762 194h1v1h-1zM782 194h2v1h-2zM938 194h1v1h-1zM740 195h2v1h-2zM744 195h1v1h-1zM761 195h1v1h-1zM938 195h1v1h-1zM738 196h2v1h-2zM745 196h1v1h-1zM760 196h1v1h-1zM938 196h1v1h-1zM736 197h2v1h-2zM746 197h1v1h-1zM759 197h1v1h-1zM939 197h1v1h-1zM735 198h1v1h-1zM747 198h1v1h-1zM757 198h2v1h-2zM939 198h1v1h-1zM735 199h1v1h-1zM747 199h1v1h-1zM756 199h1v1h-1zM939 199h1v1h-1zM734 200h1v1h-1zM748 200h1v1h-1zM755 200h1v1h-1zM939 200h1v1h-1zM734 201h1v1h-1zM749 201h1v1h-1zM753 201h2v1h-2zM940 201h1v1h-1zM733 202h1v1h-1zM750 202h1v1h-1zM752 202h1v1h-1zM940 202h1v1h-1zM733 203h1v1h-1zM751 203h1v1h-1zM940 203h1v1h-1zM732 204h1v1h-1zM941 204h1v1h-1zM732 205h1v1h-1zM941 205h1v1h-1zM731 206h1v1h-1zM941 206h1v1h-1zM731 207h1v1h-1zM942 207h1v1h-1zM730 208h1v1h-1zM942 208h1v1h-1zM730 209h1v1h-1zM942 209h1v1h-1zM729 210h1v1h-1zM943 210h1v1h-1zM729 211h1v1h-1zM943 211h1v1h-1zM728 212h1v1h-1zM944 212h1v1h-1zM728 213h1v1h-1zM944 213h1v1h-1zM727 214h1v1h-1zM945 214h1v1h-1zM727 215h1v1h-1zM945 215h1v1h-1zM726 216h1v1h-1zM946 216h1v1h-1zM725 217h1v1h-1zM946 217h1v1h-1zM724 218h1v1h-1zM947 218h1v1h-1zM723 219h1v1h-1zM947 219h1v1h-1zM723 220h1v1h-1zM948 220h1v1h-1zM722 221h1v1h-1zM948 221h1v1h-1zM721 222h1v1h-1zM949 222h1v1h-1zM679 223h1v1h-1zM720 223h1v1h-1zM949 223h1v1h-1zM677 224h2v1h-2zM680 224h1v1h-1zM711 224h9v1h-9zM950 224h1v1h-1zM675 225h2v1h-2zM681 225h1v1h-1zM710 225h1v1h-1zM950 225h1v1h-1zM674 226h1v1h-1zM682 226h1v1h-1zM710 226h1v1h-1zM951 226h1v1h-1zM672 227h2v1h-2zM683 227h1v1h-1zM709 227h1v1h-1zM952 227h1v1h-1zM671 228h1v1h-1zM684 228h1v1h-1zM708 228h1v1h-1zM952 228h1v1h-1zM669 229h2v1h-2zM685 229h1v1h-1zM708 229h1v1h-1zM953 229h1v1h-1zM667 230h2v1h-2zM686 230h1v1h-1zM707 230h1v1h-1zM953 230h1v1h-1zM666 231h1v1h-1zM687 231h1v1h-1zM706 231h1v1h-1zM954 231h1v1h-1zM664 232h2v1h-2zM688 232h1v1h-1zM706 232h1v1h-1zM955 232h1v1h-1zM663 233h1v1h-1zM688 233h1v1h-1zM705 233h1v1h-1zM955 233h1v1h-1zM661 234h2v1h-2zM689 234h1v1h-1zM704 234h1v1h-1zM956 234h1v1h-1zM659 235h2v1h-2zM689 235h1v1h-1zM704 235h1v1h-1zM957 235h1v1h-1zM658 236h1v1h-1zM690 236h1v1h-1zM703 236h1v1h-1zM957 236h1v1h-1zM656 237h2v1h-2zM690 237h1v1h-1zM702 237h1v1h-1zM958 237h1v1h-1zM655 238h1v1h-1zM691 238h1v1h-1zM701 238h1v1h-1zM958 238h1v1h-1zM654 239h1v1h-1zM692 239h1v1h-1zM700 239h1v1h-1zM959 239h1v1h-1zM654 240h1v1h-1zM692 240h1v1h-1zM699 240h1v1h-1zM960 240h2v1h-2zM653 241h1v1h-1zM693 241h1v1h-1zM699 241h1v1h-1zM962 241h2v1h-2zM653 242h1v1h-1zM693 242h1v1h-1zM698 242h1v1h-1zM964 242h2v1h-2zM652 243h1v1h-1zM694 243h1v1h-1zM697 243h1v1h-1zM966 243h3v1h-3zM651 244h1v1h-1zM694 244h1v1h-1zM696 244h1v1h-1zM969 244h2v1h-2zM651 245h1v1h-1zM695 245h1v1h-1zM971 245h3v1h-3zM650 246h1v1h-1zM974 246h2v1h-2zM649 247h1v1h-1zM649 248h1v1h-1zM631 249h10v1h-10zM648 249h1v1h-1zM629 250h2v1h-2zM641 250h4v1h-4zM648 250h1v1h-1zM628 251h1v1h-1zM645 251h3v1h-3zM627 252h1v1h-1zM625 253h2v1h-2zM624 254h1v1h-1zM623 255h1v1h-1zM622 256h1v1h-1zM566 257h2v1h-2zM621 257h1v1h-1zM564 258h2v1h-2zM568 258h1v1h-1zM619 258h2v1h-2zM562 259h2v1h-2zM569 259h2v1h-2zM618 259h1v1h-1zM560 260h2v1h-2zM571 260h1v1h-1zM617 260h1v1h-1zM559 261h1v1h-1zM572 261h1v1h-1zM616 261h1v1h-1zM558 262h1v1h-1zM573 262h2v1h-2zM615 262h1v1h-1zM558 263h1v1h-1zM575 263h1v1h-1zM613 263h2v1h-2zM557 264h1v1h-1zM576 264h2v1h-2zM612 264h1v1h-1zM556 265h1v1h-1zM578 265h1v1h-1zM611 265h1v1h-1zM555 266h1v1h-1zM579 266h2v1h-2zM609 266h2v1h-2zM555 267h1v1h-1zM581 267h2v1h-2zM608 267h1v1h-1zM554 268h1v1h-1zM583 268h1v1h-1zM607 268h1v1h-1zM553 269h1v1h-1zM584 269h1v1h-1zM606 269h1v1h-1zM552 270h1v1h-1zM585 270h1v1h-1zM605 270h1v1h-1zM552 271h1v1h-1zM586 271h1v1h-1zM603 271h2v1h-2zM551 272h1v1h-1zM587 272h2v1h-2zM602 272h1v1h-1zM550 273h1v1h-1zM589 273h1v1h-1zM601 273h1v1h-1zM550 274h1v1h-1zM590 274h1v1h-1zM600 274h1v1h-1zM549 275h1v1h-1zM591 275h9v1h-9zM549 276h1v1h-1zM548 277h1v1h-1zM547 278h1v1h-1zM547 279h1v1h-1zM546 280h1v1h-1zM545 281h1v1h-1zM545 282h1v1h-1zM103 283h2v1h-2zM544 283h1v1h-1zM102 284h1v1h-1zM105 284h2v1h-2zM544 284h1v1h-1zM101 285h1v1h-1zM107 285h3v1h-3zM543 285h1v1h-1zM100 286h1v1h-1zM110 286h2v1h-2zM542 286h1v1h-1zM99 287h1v1h-1zM112 287h2v1h-2zM541 287h1v1h-1zM98 288h1v1h-1zM114 288h2v1h-2zM540 288h1v1h-1zM97 289h1v1h-1zM116 289h2v1h-2zM539 289h1v1h-1zM96 290h1v1h-1zM118 290h2v1h-2zM539 290h1v1h-1zM95 291h1v1h-1zM120 291h1v1h-1zM538 291h1v1h-1zM94 292h1v1h-1zM120 292h1v1h-1zM537 292h1v1h-1zM94 293h1v1h-1zM121 293h1v1h-1zM536 293h1v1h-1zM93 294h1v1h-1zM121 294h1v1h-1zM535 294h1v1h-1zM92 295h1v1h-1zM122 295h1v1h-1zM534 295h1v1h-1zM92 296h1v1h-1zM123 296h1v1h-1zM534 296h1v1h-1zM91 297h1v1h-1zM123 297h1v1h-1zM533 297h1v1h-1zM90 298h1v1h-1zM124 298h1v1h-1zM532 298h1v1h-1zM90 299h1v1h-1zM125 299h1v1h-1zM531 299h1v1h-1zM89 300h1v1h-1zM125 300h1v1h-1zM531 300h1v1h-1zM88 301h1v1h-1zM126 301h1v1h-1zM530 301h1v1h-1zM88 302h1v1h-1zM126 302h1v1h-1zM529 302h1v1h-1zM87 303h1v1h-1zM127 303h1v1h-1zM528 303h1v1h-1zM86 304h1v1h-1zM128 304h1v1h-1zM528 304h1v1h-1zM86 305h1v1h-1zM128 305h1v1h-1zM527 305h1v1h-1zM85 306h1v1h-1zM129 306h1v1h-1zM475 306h8v1h-8zM526 306h1v1h-1zM85 307h1v1h-1zM129 307h1v1h-1zM467 307h8v1h-8zM483 307h5v1h-5zM525 307h1v1h-1zM84 308h1v1h-1zM130 308h1v1h-1zM463 308h4v1h-4zM488 308h2v1h-2zM523 308h2v1h-2zM84 309h1v1h-1zM130 309h1v1h-1zM461 309h2v1h-2zM490 309h2v1h-2zM522 309h1v1h-1zM83 310h1v1h-1zM131 310h1v1h-1zM460 310h1v1h-1zM492 310h2v1h-2zM521 310h1v1h-1zM83 311h1v1h-1zM131 311h1v1h-1zM459 311h1v1h-1zM494 311h5v1h-5zM520 311h1v1h-1zM82 312h1v1h-1zM132 312h1v1h-1zM457 312h2v1h-2zM499 312h21v1h-21zM82 313h1v1h-1zM132 313h1v1h-1zM456 313h1v1h-1zM81 314h1v1h-1zM133 314h1v1h-1zM455 314h1v1h-1zM81 315h1v1h-1zM133 315h1v1h-1zM454 315h1v1h-1zM80 316h1v1h-1zM134 316h1v1h-1zM454 316h1v1h-1zM80 317h1v1h-1zM134 317h1v1h-1zM407 317h1v1h-1zM453 317h1v1h-1zM79 318h1v1h-1zM135 318h1v1h-1zM406 318h1v1h-1zM408 318h1v1h-1zM453 318h1v1h-1zM79 319h1v1h-1zM136 319h1v1h-1zM406 319h1v1h-1zM409 319h2v1h-2zM452 319h1v1h-1zM78 320h1v1h-1zM136 320h1v1h-1zM405 320h1v1h-1zM411 320h1v1h-1zM451 320h1v1h-1zM78 321h1v1h-1zM137 321h1v1h-1zM404 321h1v1h-1zM412 321h1v1h-1zM451 321h1v1h-1zM78 322h1v1h-1zM137 322h1v1h-1zM403 322h1v1h-1zM413 322h2v1h-2zM450 322h1v1h-1zM77 323h1v1h-1zM138 323h1v1h-1zM403 323h1v1h-1zM415 323h2v1h-2zM449 323h1v1h-1zM77 324h1v1h-1zM139 324h1v1h-1zM402 324h1v1h-1zM417 324h2v1h-2zM449 324h1v1h-1zM77 325h1v1h-1zM139 325h1v1h-1zM401 325h1v1h-1zM419 325h3v1h-3zM448 325h1v1h-1zM76 326h1v1h-1zM140 326h1v1h-1zM400 326h1v1h-1zM422 326h3v1h-3zM448 326h1v1h-1zM76 327h1v1h-1zM141 327h1v1h-1zM400 327h1v1h-1zM425 327h4v1h-4zM445 327h3v1h-3zM76 328h1v1h-1zM141 328h1v1h-1zM399 328h1v1h-1zM429 328h6v1h-6zM441 328h4v1h-4zM75 329h1v1h-1zM142 329h1v1h-1zM398 329h1v1h-1zM435 329h6v1h-6zM75 330h1v1h-1zM142 330h1v1h-1zM398 330h1v1h-1zM75 331h1v1h-1zM143 331h1v1h-1zM397 331h1v1h-1zM75 332h1v1h-1zM144 332h1v1h-1zM397 332h1v1h-1zM74 333h1v1h-1zM144 333h1v1h-1zM396 333h1v1h-1zM74 334h1v1h-1zM145 334h1v1h-1zM396 334h1v1h-1zM74 335h1v1h-1zM146 335h1v1h-1zM395 335h1v1h-1zM73 336h1v1h-1zM146 336h1v1h-1zM395 336h1v1h-1zM73 337h1v1h-1zM147 337h1v1h-1zM394 337h1v1h-1zM73 338h1v1h-1zM148 338h1v1h-1zM394 338h1v1h-1zM72 339h1v1h-1zM148 339h1v1h-1zM393 339h1v1h-1zM72 340h1v1h-1zM149 340h1v1h-1zM393 340h1v1h-1zM72 341h1v1h-1zM150 341h1v1h-1zM392 341h1v1h-1zM71 342h1v1h-1zM150 342h1v1h-1zM392 342h1v1h-1zM7 343h4v1h-4zM71 343h1v1h-1zM151 343h1v1h-1zM391 343h1v1h-1zM11 344h5v1h-5zM71 344h1v1h-1zM152 344h1v1h-1zM390 344h1v1h-1zM16 345h1v1h-1zM70 345h1v1h-1zM153 345h1v1h-1zM390 345h1v1h-1zM17 346h1v1h-1zM70 346h1v1h-1zM153 346h1v1h-1zM389 346h1v1h-1zM18 347h1v1h-1zM70 347h1v1h-1zM154 347h1v1h-1zM389 347h1v1h-1zM19 348h1v1h-1zM69 348h1v1h-1zM155 348h1v1h-1zM388 348h1v1h-1zM20 349h1v1h-1zM69 349h1v1h-1zM156 349h1v1h-1zM388 349h1v1h-1zM21 350h1v1h-1zM69 350h1v1h-1zM157 350h1v1h-1zM387 350h1v1h-1zM22 351h1v1h-1zM68 351h1v1h-1zM157 351h1v1h-1zM386 351h1v1h-1zM23 352h1v1h-1zM68 352h1v1h-1zM158 352h1v1h-1zM386 352h1v1h-1zM24 353h1v1h-1zM68 353h1v1h-1zM159 353h2v1h-2zM385 353h1v1h-1zM25 354h1v1h-1zM67 354h1v1h-1zM161 354h2v1h-2zM385 354h1v1h-1zM26 355h1v1h-1zM67 355h1v1h-1zM163 355h3v1h-3zM384 355h1v1h-1zM27 356h1v1h-1zM66 356h1v1h-1zM166 356h2v1h-2zM384 356h1v1h-1zM27 357h1v1h-1zM66 357h1v1h-1zM168 357h1v1h-1zM343 357h9v1h-9zM383 357h1v1h-1zM28 358h1v1h-1zM66 358h1v1h-1zM169 358h2v1h-2zM342 358h1v1h-1zM352 358h2v1h-2zM381 358h2v1h-2zM29 359h1v1h-1zM65 359h1v1h-1zM171 359h1v1h-1zM341 359h1v1h-1zM354 359h2v1h-2zM380 359h1v1h-1zM30 360h1v1h-1zM65 360h1v1h-1zM172 360h1v1h-1zM339 360h2v1h-2zM356 360h2v1h-2zM379 360h1v1h-1zM31 361h1v1h-1zM65 361h1v1h-1zM173 361h2v1h-2zM338 361h1v1h-1zM358 361h2v1h-2zM377 361h2v1h-2zM32 362h1v1h-1zM64 362h1v1h-1zM175 362h1v1h-1zM337 362h1v1h-1zM360 362h2v1h-2zM376 362h1v1h-1zM33 363h1v1h-1zM64 363h1v1h-1zM176 363h1v1h-1zM336 363h1v1h-1zM362 363h1v1h-1zM374 363h2v1h-2zM34 364h1v1h-1zM64 364h1v1h-1zM176 364h1v1h-1zM335 364h1v1h-1zM363 364h2v1h-2zM371 364h3v1h-3zM35 365h1v1h-1zM63 365h1v1h-1zM177 365h1v1h-1zM334 365h1v1h-1zM365 365h2v1h-2zM369 365h2v1h-2zM35 366h1v1h-1zM63 366h1v1h-1zM178 366h1v1h-1zM333 366h1v1h-1zM367 366h2v1h-2zM36 367h1v1h-1zM62 367h1v1h-1zM179 367h1v1h-1zM332 367h1v1h-1zM37 368h1v1h-1zM62 368h1v1h-1zM179 368h1v1h-1zM331 368h1v1h-1zM38 369h1v1h-1zM61 369h1v1h-1zM180 369h1v1h-1zM330 369h1v1h-1zM39 370h1v1h-1zM60 370h1v1h-1zM181 370h1v1h-1zM329 370h1v1h-1zM40 371h1v1h-1zM60 371h1v1h-1zM182 371h1v1h-1zM328 371h1v1h-1zM41 372h1v1h-1zM59 372h1v1h-1zM182 372h1v1h-1zM327 372h1v1h-1zM42 373h1v1h-1zM58 373h1v1h-1zM183 373h1v1h-1zM326 373h1v1h-1zM43 374h1v1h-1zM58 374h1v1h-1zM184 374h1v1h-1zM325 374h1v1h-1zM43 375h1v1h-1zM57 375h1v1h-1zM184 375h1v1h-1zM324 375h1v1h-1zM44 376h1v1h-1zM56 376h1v1h-1zM185 376h1v1h-1zM323 376h1v1h-1zM45 377h1v1h-1zM56 377h1v1h-1zM186 377h1v1h-1zM322 377h1v1h-1zM46 378h1v1h-1zM51 378h5v1h-5zM187 378h1v1h-1zM321 378h1v1h-1zM47 379h4v1h-4zM187 379h1v1h-1zM320 379h1v1h-1zM188 380h1v1h-1zM235 380h6v1h-6zM319 380h1v1h-1zM189 381h1v1h-1zM231 381h4v1h-4zM241 381h4v1h-4zM318 381h1v1h-1zM190 382h1v1h-1zM230 382h1v1h-1zM245 382h3v1h-3zM317 382h1v1h-1zM190 383h1v1h-1zM230 383h1v1h-1zM248 383h1v1h-1zM315 383h2v1h-2zM191 384h1v1h-1zM229 384h1v1h-1zM248 384h1v1h-1zM314 384h1v1h-1zM192 385h1v1h-1zM228 385h1v1h-1zM249 385h1v1h-1zM313 385h1v1h-1zM193 386h1v1h-1zM227 386h1v1h-1zM249 386h1v1h-1zM312 386h1v1h-1zM194 387h1v1h-1zM227 387h1v1h-1zM250 387h1v1h-1zM311 387h1v1h-1zM195 388h1v1h-1zM226 388h1v1h-1zM251 388h1v1h-1zM310 388h1v1h-1zM195 389h1v1h-1zM225 389h1v1h-1zM251 389h1v1h-1zM310 389h1v1h-1zM196 390h1v1h-1zM224 390h1v1h-1zM252 390h1v1h-1zM309 390h1v1h-1zM197 391h1v1h-1zM224 391h1v1h-1zM253 391h1v1h-1zM309 391h1v1h-1zM198 392h1v1h-1zM222 392h2v1h-2zM253 392h1v1h-1zM308 392h1v1h-1zM199 393h1v1h-1zM220 393h2v1h-2zM254 393h1v1h-1zM307 393h1v1h-1zM200 394h2v1h-2zM218 394h2v1h-2zM254 394h1v1h-1zM307 394h1v1h-1zM202 395h2v1h-2zM216 395h2v1h-2zM255 395h1v1h-1zM306 395h1v1h-1zM204 396h2v1h-2zM211 396h5v1h-5zM256 396h1v1h-1zM305 396h1v1h-1zM206 397h5v1h-5zM256 397h1v1h-1zM305 397h1v1h-1zM257 398h1v1h-1zM304 398h1v1h-1zM257 399h1v1h-1zM304 399h1v1h-1zM258 400h1v1h-1zM303 400h1v1h-1zM258 401h1v1h-1zM302 401h1v1h-1zM259 402h1v1h-1zM302 402h1v1h-1zM260 403h1v1h-1zM301 403h1v1h-1zM260 404h1v1h-1zM301 404h1v1h-1zM261 405h1v1h-1zM300 405h1v1h-1zM261 406h1v1h-1zM300 406h1v1h-1zM262 407h1v1h-1zM299 407h1v1h-1zM262 408h1v1h-1zM299 408h1v1h-1zM263 409h1v1h-1zM298 409h1v1h-1zM263 410h1v1h-1zM298 410h1v1h-1zM264 411h1v1h-1zM297 411h1v1h-1zM264 412h1v1h-1zM297 412h1v1h-1zM265 413h1v1h-1zM296 413h1v1h-1zM265 414h1v1h-1zM296 414h1v1h-1zM266 415h1v1h-1zM295 415h1v1h-1zM266 416h1v1h-1zM294 416h1v1h-1zM266 417h1v1h-1zM294 417h1v1h-1zM267 418h1v1h-1zM293 418h1v1h-1zM267 419h1v1h-1zM292 419h1v1h-1zM268 420h1v1h-1zM292 420h1v1h-1zM268 421h1v1h-1zM291 421h1v1h-1zM268 422h1v1h-1zM290 422h1v1h-1zM269 423h1v1h-1zM290 423h1v1h-1zM269 424h1v1h-1zM289 424h1v1h-1zM270 425h1v1h-1zM288 425h1v1h-1zM270 426h1v1h-1zM288 426h1v1h-1zM271 427h1v1h-1zM286 427h2v1h-2zM271 428h2v1h-2zM283 428h3v1h-3zM273 429h4v1h-4zM281 429h2v1h-2zM277 430h4v1h-4z" fill="#0000ff"/>
<rect x="7" y="316" width="1" height="53" fill="#ff0000"/>
<rect x="5" y="325" width="5" height="40" fill="#ff0000"/>
<rect x="6" y="326" width="3" height="38" fill="#ff4500"/>
<rect x="15" y="314" width="1" height="46" fill="#32cd32"/>
<rect x="13" y="325" width="5" height="23" fill="#32cd32"/>
<rect x="23" y="331" width="1" height="55" fill="#32cd32"/>
<rect x="21" y="356" width="5" height="23" fill="#32cd32"/>
<rect x="31" y="370" width="1" height="46" fill="#32cd32"/>
<rect x="29" y="378" width="5" height="16" fill="#32cd32"/>
<rect x="39" y="379" width="1" height="31" fill="#32cd32"/>
<rect x="37" y="394" width="5" height="12" fill="#32cd32"/>
<rect x="47" y="362" width="1" height="48" fill="#ff0000"/>
<rect x="45" y="371" width="5" height="36" fill="#ff0000"/>
<rect x="46" y="372" width="3" height="34" fill="#ff4500"/>
<rect x="55" y="321" width="1" height="58" fill="#ff0000"/>
<rect x="53" y="342" width="5" height="30" fill="#ff0000"/>
<rect x="54" y="343" width="3" height="28" fill="#ff4500"/>
<rect x="63" y="314" width="1" height="30" fill="#ff0000"/>
<rect x="61" y="320" width="5" height="18" fill="#ff0000"/>
<rect x="62" y="321" width="3" height="16" fill="#ff4500"/>
<rect x="71" y="266" width="1" height="57" fill="#ff0000"/>
<rect x="69" y="275" width="5" height="45" fill="#ff0000"/>
<rect x="70" y="276" width="3" height="43" fill="#ff4500"/>
<rect x="79" y="266" width="1" height="24" fill="#32cd32"/>
<rect x="77" y="275" width="5" height="6" fill="#32cd32"/>
<rect x="87" y="257" width="1" height="47" fill="#32cd32"/>
<rect x="85" y="280" width="5" height="17" fill="#32cd32"/>
<rect x="95" y="261" width="1" height="51" fill="#32cd32"/>
<rect x="93" y="264" width="5" height="20" fill="#32cd32"/>
<rect x="103" y="274" width="1" height="13" fill="#ff0000"/>
<rect x="101" y="282" width="5" height="2" fill="#ff0000"/>
<rect x="111" y="270" width="1" height="23" fill="#32cd32"/>
<rect x="109" y="281" width="5" height="8" fill="#32cd32"/>
<rect x="119" y="281" width="1" height="21" fill="#32cd32"/>
<rect x="117" y="288" width="5" height="14" fill="#32cd32"/>
<rect x="127" y="298" width="1" height="71" fill="#32cd32"/>
<rect x="125" y="300" width="5" height="60" fill="#32cd32"/>
<rect x="135" y="350" width="1" height="24" fill="#ff0000"/>
<rect x="133" y="359" width="5" height="1" fill="#ff0000"/>
<rect x="143" y="340" width="1" height="31" fill="#ff0000"/>
<rect x="141" y="348" width="5" height="12" fill="#ff0000"/>
<rect x="142" y="349" width="3" height="10" fill="#ff4500"/>
<rect x="151" y="337" width="1" height="13" fill="#ff0000"/>
<rect x="149" y="347" width="5" height="2" fill="#ff0000"/>
<rect x="159" y="339" width="1" height="23" fill="#32cd32"/>
<rect x="157" y="342" width="5" height="12" fill="#32cd32"/>
<rect x="167" y="332" width="1" height="42" fill="#32cd32"/>
<rect x="165" y="353" width="5" height="21" fill="#32cd32"/>
<rect x="175" y="355" width="1" height="39" fill="#32cd32"/>
<rect x="173" y="372" width="5" height="20" fill="#32cd32"/>
<rect x="183" y="388" width="1" height="28" fill="#32cd32"/>
<rect x="181" y="391" width="5" height="9" fill="#32cd32"/>
<rect x="191" y="388" width="1" height="28" fill="#32cd32"/>
<rect x="189" y="399" width="5" height="4" fill="#32cd32"/>
<rect x="199" y="396" width="1" height="10" fill="#ff0000"/>
<rect x="197" y="399" width="5" height="4" fill="#ff0000"/>
<rect x="198" y="400" width="3" height="2" fill="#ff4500"/>
<rect x="207" y="386" width="1" height="19" fill="#ff0000"/>
<rect x="205" y="392" width="5" height="8" fill="#ff0000"/>
<rect x="206" y="393" width="3" height="6" fill="#ff4500"/>
<rect x="215" y="375" width="1" height="19" fill="#ff0000"/>
<rect x="213" y="388" width="5" height="5" fill="#ff0000"/>
<rect x="214" y="389" width="3" height="3" fill="#ff4500"/>
<rect x="223" y="371" width="1" height="19" fill="#ff0000"/>
<rect x="221" y="379" width="5" height="10" fill="#ff0000"/>
<rect x="222" y="380" width="3" height="8" fill="#ff4500"/>
<rect x="231" y="324" width="1" height="57" fill="#ff0000"/>
<rect x="229" y="345" width="5" height="35" fill="#ff0000"/>
<rect x="230" y="346" width="3" height="33" fill="#ff4500"/>
<rect x="239" y="339" width="1" height="66" fill="#32cd32"/>
<rect x="237" y="345" width="5" height="54" fill="#32cd32"/>
<rect x="247" y="388" width="1" height="14" fill="#32cd32"/>
<rect x="245" y="398" width="5" height="1" fill="#32cd32"/>
<rect x="255" y="426" width="1" height="36" fill="#32cd32"/>
<rect x="253" y="436" width="5" height="20" fill="#32cd32"/>
<rect x="263" y="436" width="1" height="28" fill="#ff0000"/>
<rect x="261" y="447" width="5" height="9" fill="#ff0000"/>
<rect x="262" y="448" width="3" height="7" fill="#ff4500"/>
<rect x="271" y="435" width="1" height="18" fill="#ff0000"/>
<rect x="269" y="442" width="5" height="6" fill="#ff0000"/>
<rect x="270" y="443" width="3" height="4" fill="#ff4500"/>
<rect x="279" y="406" width="1" height="40" fill="#ff0000"/>
<rect x="277" y="407" width="5" height="36" fill="#ff0000"/>
<rect x="278" y="408" width="3" height="34" fill="#ff4500"/>
<rect x="287" y="383" width="1" height="32" fill="#ff0000"/>
<rect x="285" y="386" width="5" height="22" fill="#ff0000"/>
<rect x="286" y="387" width="3" height="20" fill="#ff4500"/>
<rect x="295" y="383" width="1" height="9" fill="#32cd32"/>
<rect x="293" y="386" width="5" height="6" fill="#32cd32"/>
<rect x="303" y="357" width="1" height="32" fill="#ff0000"/>
<rect x="301" y="372" width="5" height="15" fill="#ff0000"/>
<rect x="302" y="373" width="3" height="13" fill="#ff4500"/>
<rect x="311" y="360" width="1" height="26" fill="#32cd32"/>
<rect x="309" y="372" width="5" height="10" fill="#32cd32"/>
<rect x="319" y="365" width="1" height="32" fill="#ff0000"/>
<rect x="317" y="369" width="5" height="13" fill="#ff0000"/>
<rect x="318" y="370" width="3" height="11" fill="#ff4500"/>
<rect x="327" y="329" width="1" height="42" fill="#ff0000"/>
<rect x="325" y="345" width="5" height="25" fill="#ff0000"/>
<rect x="326" y="346" width="3" height="23" fill="#ff4500"/>
<rect x="335" y="337" width="1" height="25" fill="#32cd32"/>
<rect x="333" y="345" width="5" height="7" fill="#32cd32"/>
<rect x="343" y="339" width="1" height="14" fill="#ff0000"/>
<rect x="341" y="340" width="5" height="12" fill="#ff0000"/>
<rect x="342" y="341" width="3" height="10" fill="#ff4500"/>
<rect x="351" y="338" width="1" height="46" fill="#32cd32"/>
<rect x="349" y="353" width="5" height="26" fill="#32cd32"/>
<rect x="359" y="363" width="1" height="33" fill="#32cd32"/>
<rect x="357" y="378" width="5" height="15" fill="#32cd32"/>
<rect x="367" y="359" width="1" height="43" fill="#ff0000"/>
<rect x="365" y="369" width="5" height="24" fill="#ff0000"/>
<rect x="366" y="370" width="3" height="22" fill="#ff4500"/>
<rect x="375" y="333" width="1" height="37" fill="#ff0000"/>
<rect x="373" y="334" width="5" height="35" fill="#ff0000"/>
<rect x="374" y="335" width="3" height="33" fill="#ff4500"/>
<rect x="383" y="307" width="1" height="43" fill="#ff0000"/>
<rect x="381" y="314" width="5" height="22" fill="#ff0000"/>
<rect x="382" y="315" width="3" height="20" fill="#ff4500"/>
<rect x="391" y="301" width="1" height="14" fill="#ff0000"/>
<rect x="389" y="308" width="5" height="7" fill="#ff0000"/>
<rect x="390" y="309" width="3" height="5" fill="#ff4500"/>
<rect x="399" y="308" width="1" height="18" fill="#32cd32"/>
<rect x="397" y="312" width="5" height="2" fill="#32cd32"/>
<rect x="407" y="303" width="1" height="22" fill="#32cd32"/>
<rect x="405" y="313" width="5" height="2" fill="#32cd32"/>
<rect x="415" y="315" width="1" height="54" fill="#32cd32"/>
<rect x="413" y="315" width="5" height="51" fill="#32cd32"/>
<rect x="423" y="316" width="1" height="61" fill="#ff0000"/>
<rect x="421" y="331" width="5" height="35" fill="#ff0000"/>
<rect x="422" y="332" width="3" height="33" fill="#ff4500"/>
<rect x="431" y="288" width="1" height="44" fill="#ff0000"/>
<rect x="429" y="315" width="5" height="17" fill="#ff0000"/>
<rect x="430" y="316" width="3" height="15" fill="#ff4500"/>
<rect x="439" y="315" width="1" height="16" fill="#32cd32"/>
<rect x="437" y="315" width="5" height="6" fill="#32cd32"/>
<rect x="447" y="301" width="1" height="24" fill="#ff0000"/>
<rect x="445" y="302" width="5" height="17" fill="#ff0000"/>
<rect x="446" y="303" width="3" height="15" fill="#ff4500"/>
<rect x="455" y="293" width="1" height="22" fill="#ff0000"/>
<rect x="453" y="300" width="5" height="3" fill="#ff0000"/>
<rect x="454" y="301" width="3" height="1" fill="#ff4500"/>
<rect x="463" y="294" width="1" height="19" fill="#32cd32"/>
<rect x="461" y="300" width="5" height="3" fill="#32cd32"/>
<rect x="471" y="283" width="1" height="48" fill="#32cd32"/>
<rect x="469" y="302" width="5" height="11" fill="#32cd32"/>
<rect x="479" y="308" width="1" height="32" fill="#32cd32"/>
<rect x="477" y="312" width="5" height="1" fill="#32cd32"/>
<rect x="487" y="307" width="1" height="11" fill="#ff0000"/>
<rect x="485" y="309" width="5" height="4" fill="#ff0000"/>
<rect x="486" y="310" width="3" height="2" fill="#ff4500"/>
<rect x="495" y="310" width="1" height="19" fill="#32cd32"/>
<rect x="493" y="316" width="5" height="6" fill="#32cd32"/>
<rect x="503" y="300" width="1" height="24" fill="#ff0000"/>
<rect x="501" y="307" width="5" height="15" fill="#ff0000"/>
<rect x="502" y="308" width="3" height="13" fill="#ff4500"/>
<rect x="511" y="288" width="1" height="49" fill="#32cd32"/>
<rect x="509" y="307" width="5" height="4" fill="#32cd32"/>
<rect x="519" y="304" width="1" height="18" fill="#32cd32"/>
<rect x="517" y="310" width="5" height="5" fill="#32cd32"/>
<rect x="527" y="269" width="1" height="54" fill="#ff0000"/>
<rect x="525" y="273" width="5" height="42" fill="#ff0000"/>
<rect x="526" y="274" width="3" height="40" fill="#ff4500"/>
<rect x="535" y="254" width="1" height="21" fill="#ff0000"/>
<rect x="533" y="265" width="5" height="9" fill="#ff0000"/>
<rect x="534" y="266" width="3" height="7" fill="#ff4500"/>
<rect x="543" y="260" width="1" height="19" fill="#ff0000"/>
<rect x="541" y="261" width="5" height="7" fill="#ff0000"/>
<rect x="542" y="262" width="3" height="5" fill="#ff4500"/>
<rect x="551" y="242" width="1" height="26" fill="#ff0000"/>
<rect x="549" y="249" width="5" height="13" fill="#ff0000"/>
<rect x="550" y="250" width="3" height="11" fill="#ff4500"/>
<rect x="559" y="240" width="1" height="27" fill="#32cd32"/>
<rect x="557" y="249" width="5" height="7" fill="#32cd32"/>
<rect x="567" y="242" width="1" height="24" fill="#32cd32"/>
<rect x="565" y="255" width="5" height="2" fill="#32cd32"/>
<rect x="575" y="254" width="1" height="50" fill="#32cd32"/>
<rect x="573" y="256" width="5" height="41" fill="#32cd32"/>
<rect x="583" y="279" width="1" height="22" fill="#ff0000"/>
<rect x="581" y="286" width="5" height="10" fill="#ff0000"/>
<rect x="582" y="287" width="3" height="8" fill="#ff4500"/>
<rect x="591" y="268" width="1" height="29" fill="#ff0000"/>
<rect x="589" y="283" width="5" height="9" fill="#ff0000"/>
<rect x="590" y="284" width="3" height="7" fill="#ff4500"/>
<rect x="599" y="236" width="1" height="55" fill="#ff0000"/>
<rect x="597" y="253" width="5" height="31" fill="#ff0000"/>
<rect x="598" y="254" width="3" height="29" fill="#ff4500"/>
<rect x="607" y="214" width="1" height="44" fill="#ff0000"/>
<rect x="605" y="224" width="5" height="30" fill="#ff0000"/>
<rect x="606" y="225" width="3" height="28" fill="#ff4500"/>
<rect x="615" y="224" width="1" height="45" fill="#32cd32"/>
<rect x="613" y="224" width="5" height="39" fill="#32cd32"/>
<rect x="623" y="242" width="1" height="37" fill="#ff0000"/>
<rect x="621" y="253" width="5" height="10" fill="#ff0000"/>
<rect x="622" y="254" width="3" height="8" fill="#ff4500"/>
<rect x="631" y="251" width="1" height="25" fill="#32cd32"/>
<rect x="629" y="253" width="5" height="3" fill="#32cd32"/>
<rect x="639" y="251" width="1" height="25" fill="#ff0000"/>
<rect x="637" y="252" width="5" height="8" fill="#ff0000"/>
<rect x="638" y="253" width="3" height="6" fill="#ff4500"/>
<rect x="647" y="230" width="1" height="28" fill="#ff0000"/>
<rect x="645" y="232" width="5" height="20" fill="#ff0000"/>
<rect x="646" y="233" width="3" height="18" fill="#ff4500"/>
<rect x="655" y="195" width="1" height="39" fill="#ff0000"/>
<rect x="653" y="196" width="5" height="37" fill="#ff0000"/>
<rect x="654" y="197" width="3" height="35" fill="#ff4500"/>
<rect x="663" y="195" width="1" height="56" fill="#32cd32"/>
<rect x="661" y="196" width="5" height="37" fill="#32cd32"/>
<rect x="671" y="207" width="1" height="36" fill="#ff0000"/>
<rect x="669" y="227" width="5" height="6" fill="#ff0000"/>
<rect x="670" y="228" width="3" height="4" fill="#ff4500"/>
<rect x="679" y="216" width="1" height="18" fill="#32cd32"/>
<rect x="677" y="227" width="5" height="1" fill="#32cd32"/>
<rect x="687" y="238" width="1" height="51" fill="#32cd32"/>
<rect x="685" y="244" width="5" height="31" fill="#32cd32"/>
<rect x="695" y="260" width="1" height="27" fill="#ff0000"/>
<rect x="693" y="266" width="5" height="9" fill="#ff0000"/>
<rect x="694" y="267" width="3" height="7" fill="#ff4500"/>
<rect x="703" y="177" width="1" height="100" fill="#ff0000"/>
<rect x="701" y="187" width="5" height="80" fill="#ff0000"/>
<rect x="702" y="188" width="3" height="78" fill="#ff4500"/>
<rect x="711" y="156" width="1" height="44" fill="#ff0000"/>
<rect x="709" y="165" width="5" height="23" fill="#ff0000"/>
<rect x="710" y="166" width="3" height="21" fill="#ff4500"/>
<rect x="719" y="158" width="1" height="87" fill="#32cd32"/>
<rect x="717" y="165" width="5" height="62" fill="#32cd32"/>
<rect x="727" y="217" width="1" height="15" fill="#32cd32"/>
<rect x="725" y="226" width="5" height="6" fill="#32cd32"/>
<rect x="735" y="178" width="1" height="48" fill="#ff0000"/>
<rect x="733" y="180" width="5" height="30" fill="#ff0000"/>
<rect x="734" y="181" width="3" height="28" fill="#ff4500"/>
<rect x="743" y="166" width="1" height="21" fill="#ff0000"/>
<rect x="741" y="170" width="5" height="11" fill="#ff0000"/>
<rect x="742" y="171" width="3" height="9" fill="#ff4500"/>
<rect x="751" y="165" width="1" height="48" fill="#32cd32"/>
<rect x="749" y="170" width="5" height="39" fill="#32cd32"/>
<rect x="759" y="184" width="1" height="29" fill="#ff0000"/>
<rect x="757" y="197" width="5" height="11" fill="#ff0000"/>
<rect x="758" y="198" width="3" height="9" fill="#ff4500"/>
<rect x="767" y="176" width="1" height="30" fill="#ff0000"/>
<rect x="765" y="190" width="5" height="9" fill="#ff0000"/>
<rect x="766" y="191" width="3" height="7" fill="#ff4500"/>
<rect x="775" y="182" width="1" height="9" fill="#ff0000"/>
<rect x="773" y="189" width="5" height="2" fill="#ff0000"/>
<rect x="783" y="173" width="1" height="17" fill="#32cd32"/>
<rect x="781" y="186" width="5" height="2" fill="#32cd32"/>
<rect x="791" y="156" width="1" height="33" fill="#ff0000"/>
<rect x="789" y="156" width="5" height="32" fill="#ff0000"/>
<rect x="790" y="157" width="3" height="30" fill="#ff4500"/>
<rect x="799" y="131" width="1" height="39" fill="#32cd32"/>
<rect x="797" y="156" width="5" height="14" fill="#32cd32"/>
<rect x="807" y="127" width="1" height="43" fill="#ff0000"/>
<rect x="805" y="133" width="5" height="37" fill="#ff0000"/>
<rect x="806" y="134" width="3" height="35" fill="#ff4500"/>
<rect x="815" y="100" width="1" height="38" fill="#ff0000"/>
<rect x="813" y="106" width="5" height="28" fill="#ff0000"/>
<rect x="814" y="107" width="3" height="26" fill="#ff4500"/>
<rect x="823" y="86" width="1" height="23" fill="#ff0000"/>
<rect x="821" y="88" width="5" height="18" fill="#ff0000"/>
<rect x="822" y="89" width="3" height="16" fill="#ff4500"/>
<rect x="831" y="83" width="1" height="18" fill="#32cd32"/>
<rect x="829" y="87" width="5" height="4" fill="#32cd32"/>
<rect x="839" y="77" width="1" height="23" fill="#ff0000"/>
<rect x="837" y="89" width="5" height="2" fill="#ff0000"/>
<rect x="847" y="75" width="1" height="19" fill="#ff0000"/>
<rect x="845" y="81" width="5" height="4" fill="#ff0000"/>
<rect x="846" y="82" width="3" height="2" fill="#ff4500"/>
<rect x="855" y="55" width="1" height="45" fill="#ff0000"/>
<rect x="853" y="65" width="5" height="17" fill="#ff0000"/>
<rect x="854" y="66" width="3" height="15" fill="#ff4500"/>
<rect x="863" y="55" width="1" height="32" fill="#32cd32"/>
<rect x="861" y="65" width="5" height="4" fill="#32cd32"/>
<rect x="871" y="61" width="1" height="18" fill="#ff0000"/>
<rect x="869" y="65" width="5" height="4" fill="#ff0000"/>
<rect x="870" y="66" width="3" height="2" fill="#ff4500"/>
<rect x="879" y="53" width="1" height="27" fill="#ff0000"/>
<rect x="877" y="59" width="5" height="13" fill="#ff0000"/>
<rect x="878" y="60" width="3" height="11" fill="#ff4500"/>
<rect x="887" y="55" width="1" height="19" fill="#32cd32"/>
<rect x="885" y="59" width="5" height="14" fill="#32cd32"/>
<rect x="895" y="55" width="1" height="44" fill="#32cd32"/>
<rect x="893" y="70" width="5" height="12" fill="#32cd32"/>
<rect x="903" y="58" width="1" height="70" fill="#32cd32"/>
<rect x="901" y="81" width="5" height="46" fill="#32cd32"/>
<rect x="911" y="122" width="1" height="63" fill="#32cd32"/>
<rect x="909" y="126" width="5" height="57" fill="#32cd32"/>
<rect x="919" y="167" width="1" height="19" fill="#ff0000"/>
<rect x="917" y="179" width="5" height="4" fill="#ff0000"/>
<rect x="918" y="180" width="3" height="2" fill="#ff4500"/>
<rect x="927" y="182" width="1" height="40" fill="#32cd32"/>
<rect x="925" y="183" width="5" height="34" fill="#32cd32"/>
<rect x="935" y="216" width="1" height="23" fill="#32cd32"/>
<rect x="933" y="216" width="5" height="13" fill="#32cd32"/>
<rect x="943" y="212" width="1" height="67" fill="#32cd32"/>
<rect x="941" y="228" width="5" height="24" fill="#32cd32"/>
<rect x="951" y="242" width="1" height="30" fill="#32cd32"/>
<rect x="949" y="251" width="5" height="5" fill="#32cd32"/>
<rect x="959" y="234" width="1" height="44" fill="#ff0000"/>
<rect x="957" y="245" width="5" height="12" fill="#ff0000"/>
<rect x="958" y="246" width="3" height="10" fill="#ff4500"/>
<rect x="967" y="236" width="1" height="11" fill="#ff0000"/>
<rect x="965" y="236" width="5" height="10" fill="#ff0000"/>
<rect x="966" y="237" width="3" height="8" fill="#ff4500"/>
<rect x="975" y="237" width="1" height="8" fill="#32cd32"/>
<rect x="973" y="242" width="5" height="1" fill="#32cd32"/>
<rect x="686" y="290" width="360" height="1" fill="#1e88e8"/>
<rect x="711" y="159" width="348" height="2" fill="#ff0000"/>
<rect x="742" y="213" width="302" height="2" fill="#9acd32"/>
</g>
<rect x="6" y="31" width="1227" height="1" fill="#000"/>
<rect x="6" y="474" width="1227" height="1" fill="#000"/>
<rect x="6" y="31" width="1" height="444" fill="#000"/>
<rect x="1232" y="31" width="1" height="444" fill="#000"/>
<rect x="1233" y="42" width="2" height="1" fill="#000"/>
<text x="1238" y="45.8" font-size="10.2" fill="#000" textLength="32.40" lengthAdjust="spacingAndGlyphs" stroke="#000" stroke-width="0.15">1.36890</text>
<rect x="1233" y="75" width="2" height="1" fill="#000"/>
<text x="1238" y="78.8" font-size="10.2" fill="#000" textLength="32.40" lengthAdjust="spacingAndGlyphs" stroke="#000" stroke-width="0.15">1.36170</text>
<rect x="1233" y="108" width="2" height="1" fill="#000"/>
<text x="1238" y="111.8" font-size="10.2" fill="#000" textLength="32.40" lengthAdjust="spacingAndGlyphs" stroke="#000" stroke-width="0.15">1.35470</text>
<rect x="1233" y="141" width="2" height="1" fill="#000"/>
<text x="1238" y="144.8" font-size="10.2" fill="#000" textLength="32.40" lengthAdjust="spacingAndGlyphs" stroke="#000" stroke-width="0.15">1.34750</text>
<rect x="1233" y="174" width="2" height="1" fill="#000"/>
<text x="1238" y="177.8" font-size="10.2" fill="#000" textLength="32.40" lengthAdjust="spacingAndGlyphs" stroke="#000" stroke-width="0.15">1.34050</text>
<rect x="1233" y="207" width="2" height="1" fill="#000"/>
<text x="1238" y="210.8" font-size="10.2" fill="#000" textLength="32.40" lengthAdjust="spacingAndGlyphs" stroke="#000" stroke-width="0.15">1.33330</text>
<rect x="1233" y="240" width="2" height="1" fill="#000"/>
<rect x="1233" y="273" width="2" height="1" fill="#000"/>
<text x="1238" y="276.8" font-size="10.2" fill="#000" textLength="32.40" lengthAdjust="spacingAndGlyphs" stroke="#000" stroke-width="0.15">1.31910</text>
<rect x="1233" y="306" width="2" height="1" fill="#000"/>
<text x="1238" y="309.8" font-size="10.2" fill="#000" textLength="32.40" lengthAdjust="spacingAndGlyphs" stroke="#000" stroke-width="0.15">1.31190</text>
<rect x="1233" y="339" width="2" height="1" fill="#000"/>
<text x="1238" y="342.8" font-size="10.2" fill="#000" textLength="32.40" lengthAdjust="spacingAndGlyphs" stroke="#000" stroke-width="0.15">1.30490</text>
<rect x="1233" y="372" width="2" height="1" fill="#000"/>
<text x="1238" y="375.8" font-size="10.2" fill="#000" textLength="32.40" lengthAdjust="spacingAndGlyphs" stroke="#000" stroke-width="0.15">1.29770</text>
<rect x="1233" y="405" width="2" height="1" fill="#000"/>
<text x="1238" y="408.8" font-size="10.2" fill="#000" textLength="32.40" lengthAdjust="spacingAndGlyphs" stroke="#000" stroke-width="0.15">1.29070</text>
<rect x="1233" y="438" width="2" height="1" fill="#000"/>
<text x="1238" y="441.8" font-size="10.2" fill="#000" textLength="32.40" lengthAdjust="spacingAndGlyphs" stroke="#000" stroke-width="0.15">1.28350</text>
<rect x="1233" y="471" width="2" height="1" fill="#000"/>
<text x="1238" y="474.8" font-size="10.2" fill="#000" textLength="32.40" lengthAdjust="spacingAndGlyphs" stroke="#000" stroke-width="0.15">1.27650</text>
<rect x="1234" y="237" width="41" height="11" fill="#000"/>
<text x="1238" y="245.8" font-size="10.2" fill="#fff" textLength="32.40" lengthAdjust="spacingAndGlyphs" stroke="#fff" stroke-width="0.15">1.32570</text>
<path d="M9.8,42.3 L17.3,42.3 L13.55,38.2 Z" fill="#000" shape-rendering="auto"/>
<text x="22.3" y="42.8" font-size="10.2" fill="#000" textLength="65.60" lengthAdjust="spacingAndGlyphs" stroke="#000" stroke-width="0.12">USDCAD,Daily</text>
<text x="94.4" y="42.8" font-size="10.2" fill="#000" textLength="32.20" lengthAdjust="spacingAndGlyphs" stroke="#000" stroke-width="0.12">1.32583</text>
<text x="130.8" y="42.8" font-size="10.2" fill="#000" textLength="32.20" lengthAdjust="spacingAndGlyphs" stroke="#000" stroke-width="0.12">1.32678</text>
<text x="166.8" y="42.8" font-size="10.2" fill="#000" textLength="32.20" lengthAdjust="spacingAndGlyphs" stroke="#000" stroke-width="0.12">1.32534</text>
<text x="203" y="42.8" font-size="10.2" fill="#000" textLength="32.20" lengthAdjust="spacingAndGlyphs" stroke="#000" stroke-width="0.12">1.32570</text>
<g clip-path="url(#cr)">
<line x1="8" y1="497.5" x2="1232" y2="497.5" stroke="#c0c0c0" stroke-width="1" stroke-dasharray="3,3"/>
<line x1="8" y1="523.5" x2="1232" y2="523.5" stroke="#c0c0c0" stroke-width="1" stroke-dasharray="3,3"/>
<path d="M851 496h30v1h-30zM821 497h6v1h-6zM843 497h8v1h-8zM881 497h2v1h-2zM547 498h6v1h-6zM654 498h2v1h-2zM817 498h4v1h-4zM827 498h16v1h-16zM883 498h3v1h-3zM539 499h8v1h-8zM553 499h4v1h-4zM606 499h2v1h-2zM652 499h2v1h-2zM656 499h1v1h-1zM813 499h4v1h-4zM886 499h3v1h-3zM531 500h8v1h-8zM557 500h11v1h-11zM603 500h3v1h-3zM608 500h1v1h-1zM650 500h2v1h-2zM657 500h1v1h-1zM709 500h3v1h-3zM809 500h4v1h-4zM889 500h4v1h-4zM527 501h4v1h-4zM568 501h1v1h-1zM601 501h2v1h-2zM609 501h1v1h-1zM648 501h2v1h-2zM658 501h1v1h-1zM705 501h4v1h-4zM712 501h1v1h-1zM806 501h3v1h-3zM893 501h3v1h-3zM387 502h8v1h-8zM525 502h2v1h-2zM569 502h1v1h-1zM599 502h2v1h-2zM610 502h1v1h-1zM646 502h2v1h-2zM659 502h2v1h-2zM703 502h2v1h-2zM713 502h1v1h-1zM790 502h3v1h-3zM803 502h3v1h-3zM896 502h1v1h-1zM70 503h5v1h-5zM381 503h6v1h-6zM395 503h13v1h-13zM524 503h1v1h-1zM570 503h1v1h-1zM597 503h2v1h-2zM611 503h2v1h-2zM643 503h3v1h-3zM661 503h1v1h-1zM702 503h1v1h-1zM714 503h1v1h-1zM739 503h5v1h-5zM787 503h3v1h-3zM793 503h4v1h-4zM801 503h2v1h-2zM897 503h1v1h-1zM68 504h2v1h-2zM75 504h6v1h-6zM377 504h4v1h-4zM408 504h1v1h-1zM445 504h20v1h-20zM523 504h1v1h-1zM571 504h1v1h-1zM595 504h2v1h-2zM613 504h1v1h-1zM641 504h2v1h-2zM662 504h1v1h-1zM667 504h13v1h-13zM701 504h1v1h-1zM715 504h2v1h-2zM734 504h5v1h-5zM744 504h2v1h-2zM785 504h2v1h-2zM797 504h4v1h-4zM898 504h1v1h-1zM66 505h2v1h-2zM81 505h4v1h-4zM91 505h16v1h-16zM326 505h5v1h-5zM339 505h5v1h-5zM374 505h3v1h-3zM409 505h1v1h-1zM429 505h6v1h-6zM441 505h4v1h-4zM465 505h4v1h-4zM483 505h6v1h-6zM502 505h5v1h-5zM521 505h2v1h-2zM571 505h1v1h-1zM594 505h1v1h-1zM614 505h1v1h-1zM619 505h22v1h-22zM663 505h4v1h-4zM680 505h1v1h-1zM700 505h1v1h-1zM717 505h1v1h-1zM732 505h2v1h-2zM746 505h2v1h-2zM763 505h22v1h-22zM899 505h1v1h-1zM64 506h2v1h-2zM85 506h6v1h-6zM107 506h8v1h-8zM323 506h3v1h-3zM331 506h8v1h-8zM344 506h1v1h-1zM372 506h2v1h-2zM410 506h1v1h-1zM425 506h4v1h-4zM435 506h6v1h-6zM469 506h14v1h-14zM489 506h2v1h-2zM499 506h3v1h-3zM507 506h8v1h-8zM520 506h1v1h-1zM572 506h1v1h-1zM592 506h2v1h-2zM615 506h4v1h-4zM681 506h1v1h-1zM699 506h1v1h-1zM718 506h1v1h-1zM730 506h2v1h-2zM748 506h2v1h-2zM755 506h8v1h-8zM900 506h1v1h-1zM62 507h2v1h-2zM115 507h5v1h-5zM321 507h2v1h-2zM345 507h2v1h-2zM370 507h2v1h-2zM411 507h1v1h-1zM422 507h3v1h-3zM491 507h3v1h-3zM497 507h2v1h-2zM515 507h5v1h-5zM573 507h1v1h-1zM581 507h11v1h-11zM682 507h1v1h-1zM698 507h1v1h-1zM719 507h4v1h-4zM728 507h2v1h-2zM750 507h5v1h-5zM901 507h1v1h-1zM59 508h3v1h-3zM120 508h1v1h-1zM231 508h1v1h-1zM317 508h4v1h-4zM347 508h1v1h-1zM368 508h2v1h-2zM412 508h1v1h-1zM420 508h2v1h-2zM494 508h3v1h-3zM574 508h1v1h-1zM577 508h4v1h-4zM683 508h2v1h-2zM697 508h1v1h-1zM723 508h5v1h-5zM902 508h1v1h-1zM57 509h2v1h-2zM121 509h1v1h-1zM229 509h2v1h-2zM232 509h1v1h-1zM301 509h6v1h-6zM313 509h4v1h-4zM348 509h1v1h-1zM366 509h2v1h-2zM413 509h1v1h-1zM418 509h2v1h-2zM575 509h2v1h-2zM685 509h1v1h-1zM696 509h1v1h-1zM903 509h1v1h-1zM7 510h2v1h-2zM54 510h3v1h-3zM122 510h1v1h-1zM228 510h1v1h-1zM233 510h1v1h-1zM297 510h4v1h-4zM307 510h6v1h-6zM349 510h2v1h-2zM363 510h3v1h-3zM414 510h1v1h-1zM416 510h2v1h-2zM686 510h1v1h-1zM691 510h5v1h-5zM904 510h1v1h-1zM9 511h4v1h-4zM51 511h3v1h-3zM123 511h2v1h-2zM227 511h1v1h-1zM234 511h1v1h-1zM285 511h12v1h-12zM351 511h4v1h-4zM361 511h2v1h-2zM415 511h1v1h-1zM687 511h4v1h-4zM905 511h1v1h-1zM13 512h4v1h-4zM49 512h2v1h-2zM125 512h1v1h-1zM225 512h2v1h-2zM235 512h1v1h-1zM281 512h4v1h-4zM355 512h6v1h-6zM906 512h1v1h-1zM17 513h2v1h-2zM47 513h2v1h-2zM126 513h1v1h-1zM139 513h22v1h-22zM224 513h1v1h-1zM236 513h1v1h-1zM279 513h2v1h-2zM907 513h2v1h-2zM19 514h3v1h-3zM45 514h2v1h-2zM127 514h12v1h-12zM161 514h2v1h-2zM221 514h3v1h-3zM237 514h1v1h-1zM277 514h2v1h-2zM909 514h1v1h-1zM22 515h3v1h-3zM43 515h2v1h-2zM163 515h3v1h-3zM217 515h4v1h-4zM238 515h1v1h-1zM276 515h1v1h-1zM910 515h1v1h-1zM915 515h5v1h-5zM25 516h4v1h-4zM42 516h1v1h-1zM166 516h3v1h-3zM211 516h6v1h-6zM239 516h9v1h-9zM275 516h1v1h-1zM911 516h4v1h-4zM920 516h2v1h-2zM29 517h6v1h-6zM40 517h2v1h-2zM169 517h4v1h-4zM203 517h8v1h-8zM248 517h2v1h-2zM273 517h2v1h-2zM922 517h2v1h-2zM35 518h5v1h-5zM173 518h6v1h-6zM195 518h8v1h-8zM250 518h1v1h-1zM272 518h1v1h-1zM924 518h2v1h-2zM179 519h16v1h-16zM251 519h2v1h-2zM267 519h5v1h-5zM926 519h5v1h-5zM963 519h13v1h-13zM253 520h2v1h-2zM259 520h8v1h-8zM931 520h6v1h-6zM957 520h6v1h-6zM255 521h4v1h-4zM937 521h4v1h-4zM953 521h4v1h-4zM941 522h12v1h-12z" fill="#1e90ff"/>
</g>
<rect x="6" y="476" width="1227" height="1" fill="#000"/>
<rect x="6" y="543" width="1227" height="1" fill="#000"/>
<rect x="6" y="476" width="1" height="68" fill="#000"/>
<rect x="1232" y="476" width="1" height="68" fill="#000"/>
<text x="11.3" y="488.8" font-size="10.2" fill="#000" textLength="68.00" lengthAdjust="spacingAndGlyphs" stroke="#000" stroke-width="0.15">RSI(14) 35.5108</text>
<text x="1236.3" y="486.8" font-size="10.2" fill="#000" textLength="14.51" lengthAdjust="spacingAndGlyphs" stroke="#000" stroke-width="0.15">100</text>
<text x="1235.5" y="500.8" font-size="10.2" fill="#000" textLength="9.68" lengthAdjust="spacingAndGlyphs" stroke="#000" stroke-width="0.15">70</text>
<text x="1235.3" y="526.8" font-size="10.2" fill="#000" textLength="9.68" lengthAdjust="spacingAndGlyphs" stroke="#000" stroke-width="0.15">30</text>
<text x="1236.3" y="539.8" font-size="10.2" fill="#000" textLength="4.84" lengthAdjust="spacingAndGlyphs" stroke="#000" stroke-width="0.15">0</text>
<rect x="1233" y="478" width="2" height="1" fill="#000"/>
<rect x="1233" y="497" width="2" height="1" fill="#000"/>
<rect x="1233" y="523" width="2" height="1" fill="#000"/>
<rect x="1233" y="542" width="2" height="1" fill="#000"/>
<g clip-path="url(#cd)">
<rect x="6" y="587" width="3" height="6" fill="#c0c0c0"/>
<rect x="14" y="587" width="3" height="7" fill="#c0c0c0"/>
<rect x="22" y="587" width="3" height="9" fill="#c0c0c0"/>
<rect x="30" y="587" width="3" height="12" fill="#c0c0c0"/>
<rect x="38" y="587" width="3" height="15" fill="#c0c0c0"/>
<rect x="46" y="587" width="3" height="15" fill="#c0c0c0"/>
<rect x="54" y="587" width="3" height="13" fill="#c0c0c0"/>
<rect x="62" y="587" width="3" height="9" fill="#c0c0c0"/>
<rect x="70" y="587" width="3" height="4" fill="#c0c0c0"/>
<rect x="78" y="585" width="3" height="2" fill="#c0c0c0"/>
<rect x="86" y="583" width="3" height="4" fill="#c0c0c0"/>
<rect x="94" y="581" width="3" height="6" fill="#c0c0c0"/>
<rect x="102" y="579" width="3" height="8" fill="#c0c0c0"/>
<rect x="110" y="578" width="3" height="9" fill="#c0c0c0"/>
<rect x="118" y="578" width="3" height="9" fill="#c0c0c0"/>
<rect x="126" y="582" width="3" height="5" fill="#c0c0c0"/>
<rect x="134" y="585" width="3" height="2" fill="#c0c0c0"/>
<rect x="142" y="587" width="3" height="1" fill="#c0c0c0"/>
<rect x="150" y="587" width="3" height="3" fill="#c0c0c0"/>
<rect x="158" y="587" width="3" height="4" fill="#c0c0c0"/>
<rect x="166" y="587" width="3" height="6" fill="#c0c0c0"/>
<rect x="174" y="587" width="3" height="10" fill="#c0c0c0"/>
<rect x="182" y="587" width="3" height="12" fill="#c0c0c0"/>
<rect x="190" y="587" width="3" height="15" fill="#c0c0c0"/>
<rect x="198" y="587" width="3" height="16" fill="#c0c0c0"/>
<rect x="206" y="587" width="3" height="17" fill="#c0c0c0"/>
<rect x="214" y="587" width="3" height="17" fill="#c0c0c0"/>
<rect x="222" y="587" width="3" height="16" fill="#c0c0c0"/>
<rect x="230" y="587" width="3" height="12" fill="#c0c0c0"/>
<rect x="238" y="587" width="3" height="13" fill="#c0c0c0"/>
<rect x="246" y="587" width="3" height="14" fill="#c0c0c0"/>
<rect x="254" y="587" width="3" height="19" fill="#c0c0c0"/>
<rect x="262" y="587" width="3" height="21" fill="#c0c0c0"/>
<rect x="270" y="587" width="3" height="23" fill="#c0c0c0"/>
<rect x="278" y="587" width="3" height="21" fill="#c0c0c0"/>
<rect x="286" y="587" width="3" height="17" fill="#c0c0c0"/>
<rect x="294" y="587" width="3" height="16" fill="#c0c0c0"/>
<rect x="302" y="587" width="3" height="13" fill="#c0c0c0"/>
<rect x="310" y="587" width="3" height="11" fill="#c0c0c0"/>
<rect x="318" y="587" width="3" height="9" fill="#c0c0c0"/>
<rect x="326" y="587" width="3" height="5" fill="#c0c0c0"/>
<rect x="334" y="587" width="3" height="3" fill="#c0c0c0"/>
<rect x="342" y="586" width="3" height="1" fill="#c0c0c0"/>
<rect x="350" y="587" width="3" height="1" fill="#c0c0c0"/>
<rect x="358" y="587" width="3" height="2" fill="#c0c0c0"/>
<rect x="366" y="587" width="3" height="1" fill="#c0c0c0"/>
<rect x="374" y="585" width="3" height="2" fill="#c0c0c0"/>
<rect x="382" y="581" width="3" height="6" fill="#c0c0c0"/>
<rect x="390" y="578" width="3" height="9" fill="#c0c0c0"/>
<rect x="398" y="576" width="3" height="11" fill="#c0c0c0"/>
<rect x="406" y="575" width="3" height="12" fill="#c0c0c0"/>
<rect x="414" y="577" width="3" height="10" fill="#c0c0c0"/>
<rect x="422" y="577" width="3" height="10" fill="#c0c0c0"/>
<rect x="430" y="576" width="3" height="11" fill="#c0c0c0"/>
<rect x="438" y="576" width="3" height="11" fill="#c0c0c0"/>
<rect x="446" y="574" width="3" height="13" fill="#c0c0c0"/>
<rect x="454" y="573" width="3" height="14" fill="#c0c0c0"/>
<rect x="462" y="573" width="3" height="14" fill="#c0c0c0"/>
<rect x="470" y="573" width="3" height="14" fill="#c0c0c0"/>
<rect x="478" y="574" width="3" height="13" fill="#c0c0c0"/>
<rect x="486" y="575" width="3" height="12" fill="#c0c0c0"/>
<rect x="494" y="575" width="3" height="12" fill="#c0c0c0"/>
<rect x="502" y="575" width="3" height="12" fill="#c0c0c0"/>
<rect x="510" y="576" width="3" height="11" fill="#c0c0c0"/>
<rect x="518" y="576" width="3" height="11" fill="#c0c0c0"/>
<rect x="526" y="575" width="3" height="12" fill="#c0c0c0"/>
<rect x="534" y="572" width="3" height="15" fill="#c0c0c0"/>
<rect x="542" y="571" width="3" height="16" fill="#c0c0c0"/>
<rect x="550" y="569" width="3" height="18" fill="#c0c0c0"/>
<rect x="558" y="568" width="3" height="19" fill="#c0c0c0"/>
<rect x="566" y="568" width="3" height="19" fill="#c0c0c0"/>
<rect x="574" y="570" width="3" height="17" fill="#c0c0c0"/>
<rect x="582" y="572" width="3" height="15" fill="#c0c0c0"/>
<rect x="590" y="573" width="3" height="14" fill="#c0c0c0"/>
<rect x="598" y="572" width="3" height="15" fill="#c0c0c0"/>
<rect x="606" y="571" width="3" height="16" fill="#c0c0c0"/>
<rect x="614" y="571" width="3" height="16" fill="#c0c0c0"/>
<rect x="622" y="571" width="3" height="16" fill="#c0c0c0"/>
<rect x="630" y="572" width="3" height="15" fill="#c0c0c0"/>
<rect x="638" y="572" width="3" height="15" fill="#c0c0c0"/>
<rect x="646" y="572" width="3" height="15" fill="#c0c0c0"/>
<rect x="654" y="568" width="3" height="19" fill="#c0c0c0"/>
<rect x="662" y="568" width="3" height="19" fill="#c0c0c0"/>
<rect x="670" y="568" width="3" height="19" fill="#c0c0c0"/>
<rect x="678" y="569" width="3" height="18" fill="#c0c0c0"/>
<rect x="686" y="572" width="3" height="15" fill="#c0c0c0"/>
<rect x="694" y="575" width="3" height="12" fill="#c0c0c0"/>
<rect x="702" y="571" width="3" height="16" fill="#c0c0c0"/>
<rect x="710" y="568" width="3" height="19" fill="#c0c0c0"/>
<rect x="718" y="569" width="3" height="18" fill="#c0c0c0"/>
<rect x="726" y="571" width="3" height="16" fill="#c0c0c0"/>
<rect x="734" y="569" width="3" height="18" fill="#c0c0c0"/>
<rect x="742" y="567" width="3" height="20" fill="#c0c0c0"/>
<rect x="750" y="568" width="3" height="19" fill="#c0c0c0"/>
<rect x="758" y="568" width="3" height="19" fill="#c0c0c0"/>
<rect x="766" y="568" width="3" height="19" fill="#c0c0c0"/>
<rect x="774" y="568" width="3" height="19" fill="#c0c0c0"/>
<rect x="782" y="569" width="3" height="18" fill="#c0c0c0"/>
<rect x="790" y="567" width="3" height="20" fill="#c0c0c0"/>
<rect x="798" y="567" width="3" height="20" fill="#c0c0c0"/>
<rect x="806" y="565" width="3" height="22" fill="#c0c0c0"/>
<rect x="814" y="561" width="3" height="26" fill="#c0c0c0"/>
<rect x="822" y="558" width="3" height="29" fill="#c0c0c0"/>
<rect x="830" y="555" width="3" height="32" fill="#c0c0c0"/>
<rect x="838" y="554" width="3" height="33" fill="#c0c0c0"/>
<rect x="846" y="552" width="3" height="35" fill="#c0c0c0"/>
<rect x="854" y="551" width="3" height="36" fill="#c0c0c0"/>
<rect x="862" y="550" width="3" height="37" fill="#c0c0c0"/>
<rect x="870" y="550" width="3" height="37" fill="#c0c0c0"/>
<rect x="878" y="549" width="3" height="38" fill="#c0c0c0"/>
<rect x="886" y="551" width="3" height="36" fill="#c0c0c0"/>
<rect x="894" y="553" width="3" height="34" fill="#c0c0c0"/>
<rect x="902" y="557" width="3" height="30" fill="#c0c0c0"/>
<rect x="910" y="565" width="3" height="22" fill="#c0c0c0"/>
<rect x="918" y="571" width="3" height="16" fill="#c0c0c0"/>
<rect x="926" y="579" width="3" height="8" fill="#c0c0c0"/>
<rect x="934" y="586" width="3" height="1" fill="#c0c0c0"/>
<rect x="942" y="587" width="3" height="7" fill="#c0c0c0"/>
<rect x="950" y="587" width="3" height="12" fill="#c0c0c0"/>
<rect x="958" y="587" width="3" height="16" fill="#c0c0c0"/>
<rect x="966" y="587" width="3" height="17" fill="#c0c0c0"/>
<rect x="974" y="587" width="3" height="19" fill="#c0c0c0"/>
<path d="M891 551h14v1h-14zM883 552h8v1h-8zM905 552h4v1h-4zM877 553h6v1h-6zM909 553h4v1h-4zM873 554h4v1h-4zM913 554h4v1h-4zM869 555h4v1h-4zM917 555h4v1h-4zM865 556h4v1h-4zM921 556h2v1h-2zM859 557h6v1h-6zM923 557h3v1h-3zM853 558h6v1h-6zM926 558h2v1h-2zM849 559h4v1h-4zM928 559h2v1h-2zM845 560h4v1h-4zM930 560h2v1h-2zM841 561h4v1h-4zM932 561h2v1h-2zM837 562h4v1h-4zM934 562h2v1h-2zM833 563h4v1h-4zM936 563h2v1h-2zM827 564h6v1h-6zM938 564h1v1h-1zM819 565h8v1h-8zM939 565h2v1h-2zM811 566h8v1h-8zM941 566h2v1h-2zM803 567h8v1h-8zM943 567h1v1h-1zM763 568h40v1h-40zM944 568h2v1h-2zM667 569h24v1h-24zM715 569h8v1h-8zM747 569h16v1h-16zM946 569h1v1h-1zM587 570h48v1h-48zM651 570h16v1h-16zM691 570h24v1h-24zM723 570h24v1h-24zM947 570h2v1h-2zM571 571h16v1h-16zM635 571h16v1h-16zM949 571h2v1h-2zM563 572h8v1h-8zM951 572h1v1h-1zM547 573h16v1h-16zM952 573h1v1h-1zM475 574h72v1h-72zM953 574h2v1h-2zM459 575h16v1h-16zM955 575h1v1h-1zM445 576h14v1h-14zM956 576h1v1h-1zM441 577h4v1h-4zM957 577h2v1h-2zM435 578h6v1h-6zM959 578h1v1h-1zM427 579h8v1h-8zM960 579h1v1h-1zM419 580h8v1h-8zM961 580h2v1h-2zM411 581h8v1h-8zM963 581h1v1h-1zM139 582h8v1h-8zM405 582h6v1h-6zM964 582h1v1h-1zM131 583h8v1h-8zM147 583h14v1h-14zM401 583h4v1h-4zM965 583h2v1h-2zM125 584h6v1h-6zM161 584h4v1h-4zM397 584h4v1h-4zM967 584h1v1h-1zM121 585h4v1h-4zM165 585h6v1h-6zM393 585h4v1h-4zM968 585h2v1h-2zM117 586h4v1h-4zM171 586h6v1h-6zM387 586h6v1h-6zM970 586h1v1h-1zM113 587h4v1h-4zM177 587h2v1h-2zM381 587h6v1h-6zM971 587h2v1h-2zM110 588h3v1h-3zM179 588h3v1h-3zM377 588h4v1h-4zM973 588h2v1h-2zM107 589h3v1h-3zM182 589h3v1h-3zM373 589h4v1h-4zM975 589h1v1h-1zM105 590h2v1h-2zM185 590h4v1h-4zM369 590h4v1h-4zM7 591h20v1h-20zM101 591h4v1h-4zM189 591h4v1h-4zM365 591h4v1h-4zM27 592h8v1h-8zM97 592h4v1h-4zM193 592h2v1h-2zM361 592h4v1h-4zM35 593h6v1h-6zM93 593h4v1h-4zM195 593h3v1h-3zM355 593h6v1h-6zM41 594h4v1h-4zM89 594h4v1h-4zM198 594h5v1h-5zM350 594h5v1h-5zM45 595h6v1h-6zM83 595h6v1h-6zM203 595h6v1h-6zM347 595h3v1h-3zM51 596h16v1h-16zM75 596h8v1h-8zM209 596h4v1h-4zM345 596h2v1h-2zM67 597h8v1h-8zM213 597h4v1h-4zM341 597h4v1h-4zM217 598h4v1h-4zM337 598h4v1h-4zM221 599h6v1h-6zM333 599h4v1h-4zM227 600h16v1h-16zM329 600h4v1h-4zM243 601h8v1h-8zM325 601h4v1h-4zM251 602h16v1h-16zM321 602h4v1h-4zM267 603h16v1h-16zM307 603h14v1h-14zM283 604h24v1h-24z" fill="#ff0000"/>
</g>
<rect x="6" y="545" width="1227" height="1" fill="#000"/>
<rect x="6" y="612" width="1227" height="1" fill="#000"/>
<rect x="6" y="545" width="1" height="68" fill="#000"/>
<rect x="1232" y="545" width="1" height="68" fill="#000"/>
<text x="11.6" y="557.8" font-size="10.2" fill="#000" textLength="153.50" lengthAdjust="spacingAndGlyphs" stroke="#000" stroke-width="0.15">MACD(12,26,9) -0.004768 -0.000543</text>
<text x="1236.3" y="555.8" font-size="10.2" fill="#000" textLength="37.80" lengthAdjust="spacingAndGlyphs" stroke="#000" stroke-width="0.15">0.010474</text>
<text x="1236.3" y="590.8" font-size="10.2" fill="#000" textLength="17.60" lengthAdjust="spacingAndGlyphs" stroke="#000" stroke-width="0.15">0.00</text>
<text x="1236.3" y="608.8" font-size="10.2" fill="#000" textLength="40.80" lengthAdjust="spacingAndGlyphs" stroke="#000" stroke-width="0.15">-0.006218</text>
<rect x="1233" y="546" width="2" height="1" fill="#000"/>
<rect x="1233" y="587" width="2" height="1" fill="#000"/>
<rect x="1233" y="611" width="2" height="1" fill="#000"/>
<rect x="7" y="613" width="1" height="3" fill="#000"/>
<text x="5.5" y="624.8" font-size="10.2" fill="#000" textLength="53.80" lengthAdjust="spacingAndGlyphs" stroke="#000" stroke-width="0.15">23 Aug 2018</text>
<rect x="71" y="613" width="1" height="3" fill="#000"/>
<text x="69.6" y="624.8" font-size="10.2" fill="#000" textLength="47.70" lengthAdjust="spacingAndGlyphs" stroke="#000" stroke-width="0.15">4 Sep 2018</text>
<rect x="135" y="613" width="1" height="3" fill="#000"/>
<text x="134.0" y="624.8" font-size="10.2" fill="#000" textLength="52.10" lengthAdjust="spacingAndGlyphs" stroke="#000" stroke-width="0.15">13 Sep 2018</text>
<rect x="199" y="613" width="1" height="3" fill="#000"/>
<text x="197.6" y="624.8" font-size="10.2" fill="#000" textLength="52.20" lengthAdjust="spacingAndGlyphs" stroke="#000" stroke-width="0.15">22 Sep 2018</text>
<rect x="263" y="613" width="1" height="3" fill="#000"/>
<text x="262.1" y="624.8" font-size="10.2" fill="#000" textLength="46.00" lengthAdjust="spacingAndGlyphs" stroke="#000" stroke-width="0.15">2 Oct 2018</text>
<rect x="327" y="613" width="1" height="3" fill="#000"/>
<text x="325.85" y="624.8" font-size="10.2" fill="#000" textLength="51.45" lengthAdjust="spacingAndGlyphs" stroke="#000" stroke-width="0.15">11 Oct 2018</text>
<rect x="391" y="613" width="1" height="3" fill="#000"/>
<text x="390.1" y="624.8" font-size="10.2" fill="#000" textLength="51.20" lengthAdjust="spacingAndGlyphs" stroke="#000" stroke-width="0.15">20 Oct 2018</text>
<rect x="455" y="613" width="1" height="3" fill="#000"/>
<text x="453.85" y="624.8" font-size="10.2" fill="#000" textLength="51.45" lengthAdjust="spacingAndGlyphs" stroke="#000" stroke-width="0.15">30 Oct 2018</text>
<rect x="519" y="613" width="1" height="3" fill="#000"/>
<text x="518.35" y="624.8" font-size="10.2" fill="#000" textLength="48.95" lengthAdjust="spacingAndGlyphs" stroke="#000" stroke-width="0.15">8 Nov 2018</text>
<rect x="583" y="613" width="1" height="3" fill="#000"/>
<text x="582.1" y="624.8" font-size="10.2" fill="#000" textLength="54.45" lengthAdjust="spacingAndGlyphs" stroke="#000" stroke-width="0.15">17 Nov 2018</text>
<rect x="647" y="613" width="1" height="3" fill="#000"/>
<text x="645.85" y="624.8" font-size="10.2" fill="#000" textLength="54.45" lengthAdjust="spacingAndGlyphs" stroke="#000" stroke-width="0.15">27 Nov 2018</text>
<rect x="711" y="613" width="1" height="3" fill="#000"/>
<text x="709.6" y="624.8" font-size="10.2" fill="#000" textLength="47.70" lengthAdjust="spacingAndGlyphs" stroke="#000" stroke-width="0.15">6 Dec 2018</text>
<rect x="775" y="613" width="1" height="3" fill="#000"/>
<text x="774.1" y="624.8" font-size="10.2" fill="#000" textLength="52.45" lengthAdjust="spacingAndGlyphs" stroke="#000" stroke-width="0.15">15 Dec 2018</text>
<rect x="839" y="613" width="1" height="3" fill="#000"/>
<text x="838.35" y="624.8" font-size="10.2" fill="#000" textLength="51.95" lengthAdjust="spacingAndGlyphs" stroke="#000" stroke-width="0.15">25 Dec 2018</text>
<rect x="903" y="613" width="1" height="3" fill="#000"/>
<text x="902.1" y="624.8" font-size="10.2" fill="#000" textLength="45.20" lengthAdjust="spacingAndGlyphs" stroke="#000" stroke-width="0.15">3 Jan 2019</text>
<rect x="967" y="613" width="1" height="3" fill="#000"/>
<text x="965.85" y="624.8" font-size="10.2" fill="#000" textLength="50.10" lengthAdjust="spacingAndGlyphs" stroke="#000" stroke-width="0.15">12 Jan 2019</text>
<rect x="2" y="635" width="1277" height="1" fill="#000"/>
<rect x="3" y="636" width="1275" height="18" fill="#f0f0f0"/>
<rect x="2" y="636" width="1" height="18" fill="#a0a0a0"/>
<rect x="3" y="636" width="1" height="18" fill="#696969"/>
<rect x="4" y="636" width="1" height="17" fill="#fafafa"/>
<rect x="4" y="636" width="1273" height="1" fill="#fafafa"/>
<rect x="0" y="654" width="1280" height="1" fill="#f0f0f0"/>
<rect x="0" y="655" width="1280" height="1" fill="#fcfcfc"/>
<rect x="0" y="656" width="1280" height="3" fill="#efefef"/>
<rect x="0" y="659" width="1278" height="1" fill="#a0a0a0"/>
<rect x="0" y="660" width="1280" height="1" fill="#f6f6f6"/>
<rect x="0" y="654" width="4" height="1" fill="#808080"/>
<rect x="305" y="635" width="102" height="18" fill="#ffffff"/>
<rect x="304" y="635" width="1" height="19" fill="#000"/>
<rect x="407" y="635" width="1" height="19" fill="#000"/>
<rect x="304" y="653" width="104" height="1" fill="#000"/>
<text x="20.5" y="650" font-size="12.5" fill="#6d6d6d" textLength="68.10" lengthAdjust="spacingAndGlyphs">EURUSD,H4</text>
<text x="111" y="650" font-size="12.5" fill="#6d6d6d" textLength="82.60" lengthAdjust="spacingAndGlyphs">AUDUSD,Daily</text>
<text x="214.5" y="650" font-size="12.5" fill="#6d6d6d" textLength="79.10" lengthAdjust="spacingAndGlyphs">USDCHF,Daily</text>
<text x="315.5" y="650" font-size="12.5" fill="#000" textLength="81.10" lengthAdjust="spacingAndGlyphs">USDCAD,Daily</text>
<text x="418" y="650" font-size="12.5" fill="#6d6d6d" textLength="71.30" lengthAdjust="spacingAndGlyphs">USDCNH,H4</text>
<text x="510.5" y="650" font-size="12.5" fill="#6d6d6d" textLength="74.60" lengthAdjust="spacingAndGlyphs">USDJPY,Daily</text>
<text x="606" y="650" font-size="12.5" fill="#6d6d6d" textLength="95.30" lengthAdjust="spacingAndGlyphs">XAUUSD,Weekly</text>
<text x="724" y="650" font-size="12.5" fill="#6d6d6d" textLength="68.30" lengthAdjust="spacingAndGlyphs">GBPUSD,H1</text>
<text x="816" y="650" font-size="12.5" fill="#6d6d6d" textLength="63.60" lengthAdjust="spacingAndGlyphs">SP500,M15</text>
<text x="904.5" y="650" font-size="12.5" fill="#6d6d6d" textLength="80.10" lengthAdjust="spacingAndGlyphs">GBPUSD,Daily</text>
<text x="1006.3" y="650" font-size="12.5" fill="#6d6d6d" textLength="47.30" lengthAdjust="spacingAndGlyphs">DJ30,H4</text>
<text x="1074.6" y="650" font-size="12.5" fill="#6d6d6d" textLength="71.00" lengthAdjust="spacingAndGlyphs">TECH100,H1</text>
<text x="1168" y="650" font-size="12.5" fill="#6d6d6d" textLength="52.40" lengthAdjust="spacingAndGlyphs">UKOil,H1</text>
<rect x="100" y="640" width="1" height="11" fill="#7a7a7a"/>
<rect x="204" y="640" width="1" height="11" fill="#7a7a7a"/>
<rect x="500" y="640" width="1" height="11" fill="#7a7a7a"/>
<rect x="597" y="640" width="1" height="11" fill="#7a7a7a"/>
<rect x="712" y="640" width="1" height="11" fill="#7a7a7a"/>
<rect x="804" y="640" width="1" height="11" fill="#7a7a7a"/>
<rect x="892" y="640" width="1" height="11" fill="#7a7a7a"/>
<rect x="996" y="640" width="1" height="11" fill="#7a7a7a"/>
<rect x="1065" y="640" width="1" height="11" fill="#7a7a7a"/>
<rect x="1157" y="640" width="1" height="11" fill="#7a7a7a"/>
<rect x="1232" y="640" width="1" height="11" fill="#7a7a7a"/>
<path d="M1251,643 L1248,645.5 L1251,648 Z" fill="#a0a0a0"/>
<path d="M1267,641 L1271,644.5 L1267,648 Z" fill="#000"/>
<rect x="10" y="51" width="52" height="25" fill="#a80000"/>
<rect x="11" y="52" width="50" height="23" fill="url(#gsellT)"/>
<rect x="10" y="75" width="109" height="40" fill="#a80000"/>
<rect x="11" y="76" width="107" height="38" fill="url(#gsellB)"/>
<rect x="11" y="74" width="50" height="2" fill="url(#gsellB)"/>
<rect x="14" y="74" width="45" height="1" fill="#8c0000"/>
<rect x="14" y="75" width="45" height="1" fill="#ef5a5a"/>
<rect x="177" y="51" width="52" height="25" fill="#a80000"/>
<rect x="178" y="52" width="50" height="23" fill="url(#gsellT)"/>
<rect x="121" y="75" width="108" height="40" fill="#a80000"/>
<rect x="122" y="76" width="106" height="38" fill="url(#gsellB)"/>
<rect x="178" y="74" width="50" height="2" fill="url(#gsellB)"/>
<rect x="181" y="74" width="44" height="1" fill="#8c0000"/>
<rect x="181" y="75" width="44" height="1" fill="#ef5a5a"/>
<rect x="64" y="51" width="111" height="22" fill="#a7abb3"/>
<rect x="65" y="52" width="109" height="20" fill="#ffffff"/>
<rect x="66" y="53" width="18" height="18" fill="url(#gbtn)"/>
<rect x="85" y="52" width="1" height="20" fill="#a7abb3"/>
<rect x="155" y="53" width="18" height="18" fill="url(#gbtn)"/>
<rect x="153" y="52" width="1" height="20" fill="#a7abb3"/>
<path d="M71.8,60.3 L77.6,60.3 L74.7,63.2 Z" fill="#5565cc" shape-rendering="auto"/>
<path d="M160.6,63.1 L166.4,63.1 L163.5,60.2 Z" fill="#5565cc" shape-rendering="auto"/>
<text x="126.4" y="66" font-size="12.5" fill="#000" textLength="23.00" lengthAdjust="spacingAndGlyphs">0.01</text>
<text x="22.4" y="67" font-size="12.5" fill="#fff" textLength="25.60" lengthAdjust="spacingAndGlyphs">SELL</text>
<text x="190.5" y="67" font-size="12.5" fill="#fff" textLength="23.00" lengthAdjust="spacingAndGlyphs">BUY</text>
<text x="30.2" y="106" font-size="12" fill="#fff" textLength="23.30" lengthAdjust="spacingAndGlyphs" font-weight="bold">1.32</text>
<text x="58.6" y="106" font-size="34.5" fill="#fff" textLength="33.60" lengthAdjust="spacingAndGlyphs">57</text>
<text x="96.6" y="90" font-size="11.5" fill="#fff" textLength="7.40" lengthAdjust="spacingAndGlyphs" font-weight="bold">0</text>
<text x="140.7" y="106" font-size="12" fill="#fff" textLength="22.60" lengthAdjust="spacingAndGlyphs" font-weight="bold">1.32</text>
<text x="169.9" y="106" font-size="34.5" fill="#fff" textLength="32.60" lengthAdjust="spacingAndGlyphs">59</text>
<text x="208.1" y="90" font-size="11.5" fill="#fff" textLength="6.60" lengthAdjust="spacingAndGlyphs" font-weight="bold">5</text></svg></body></html>
